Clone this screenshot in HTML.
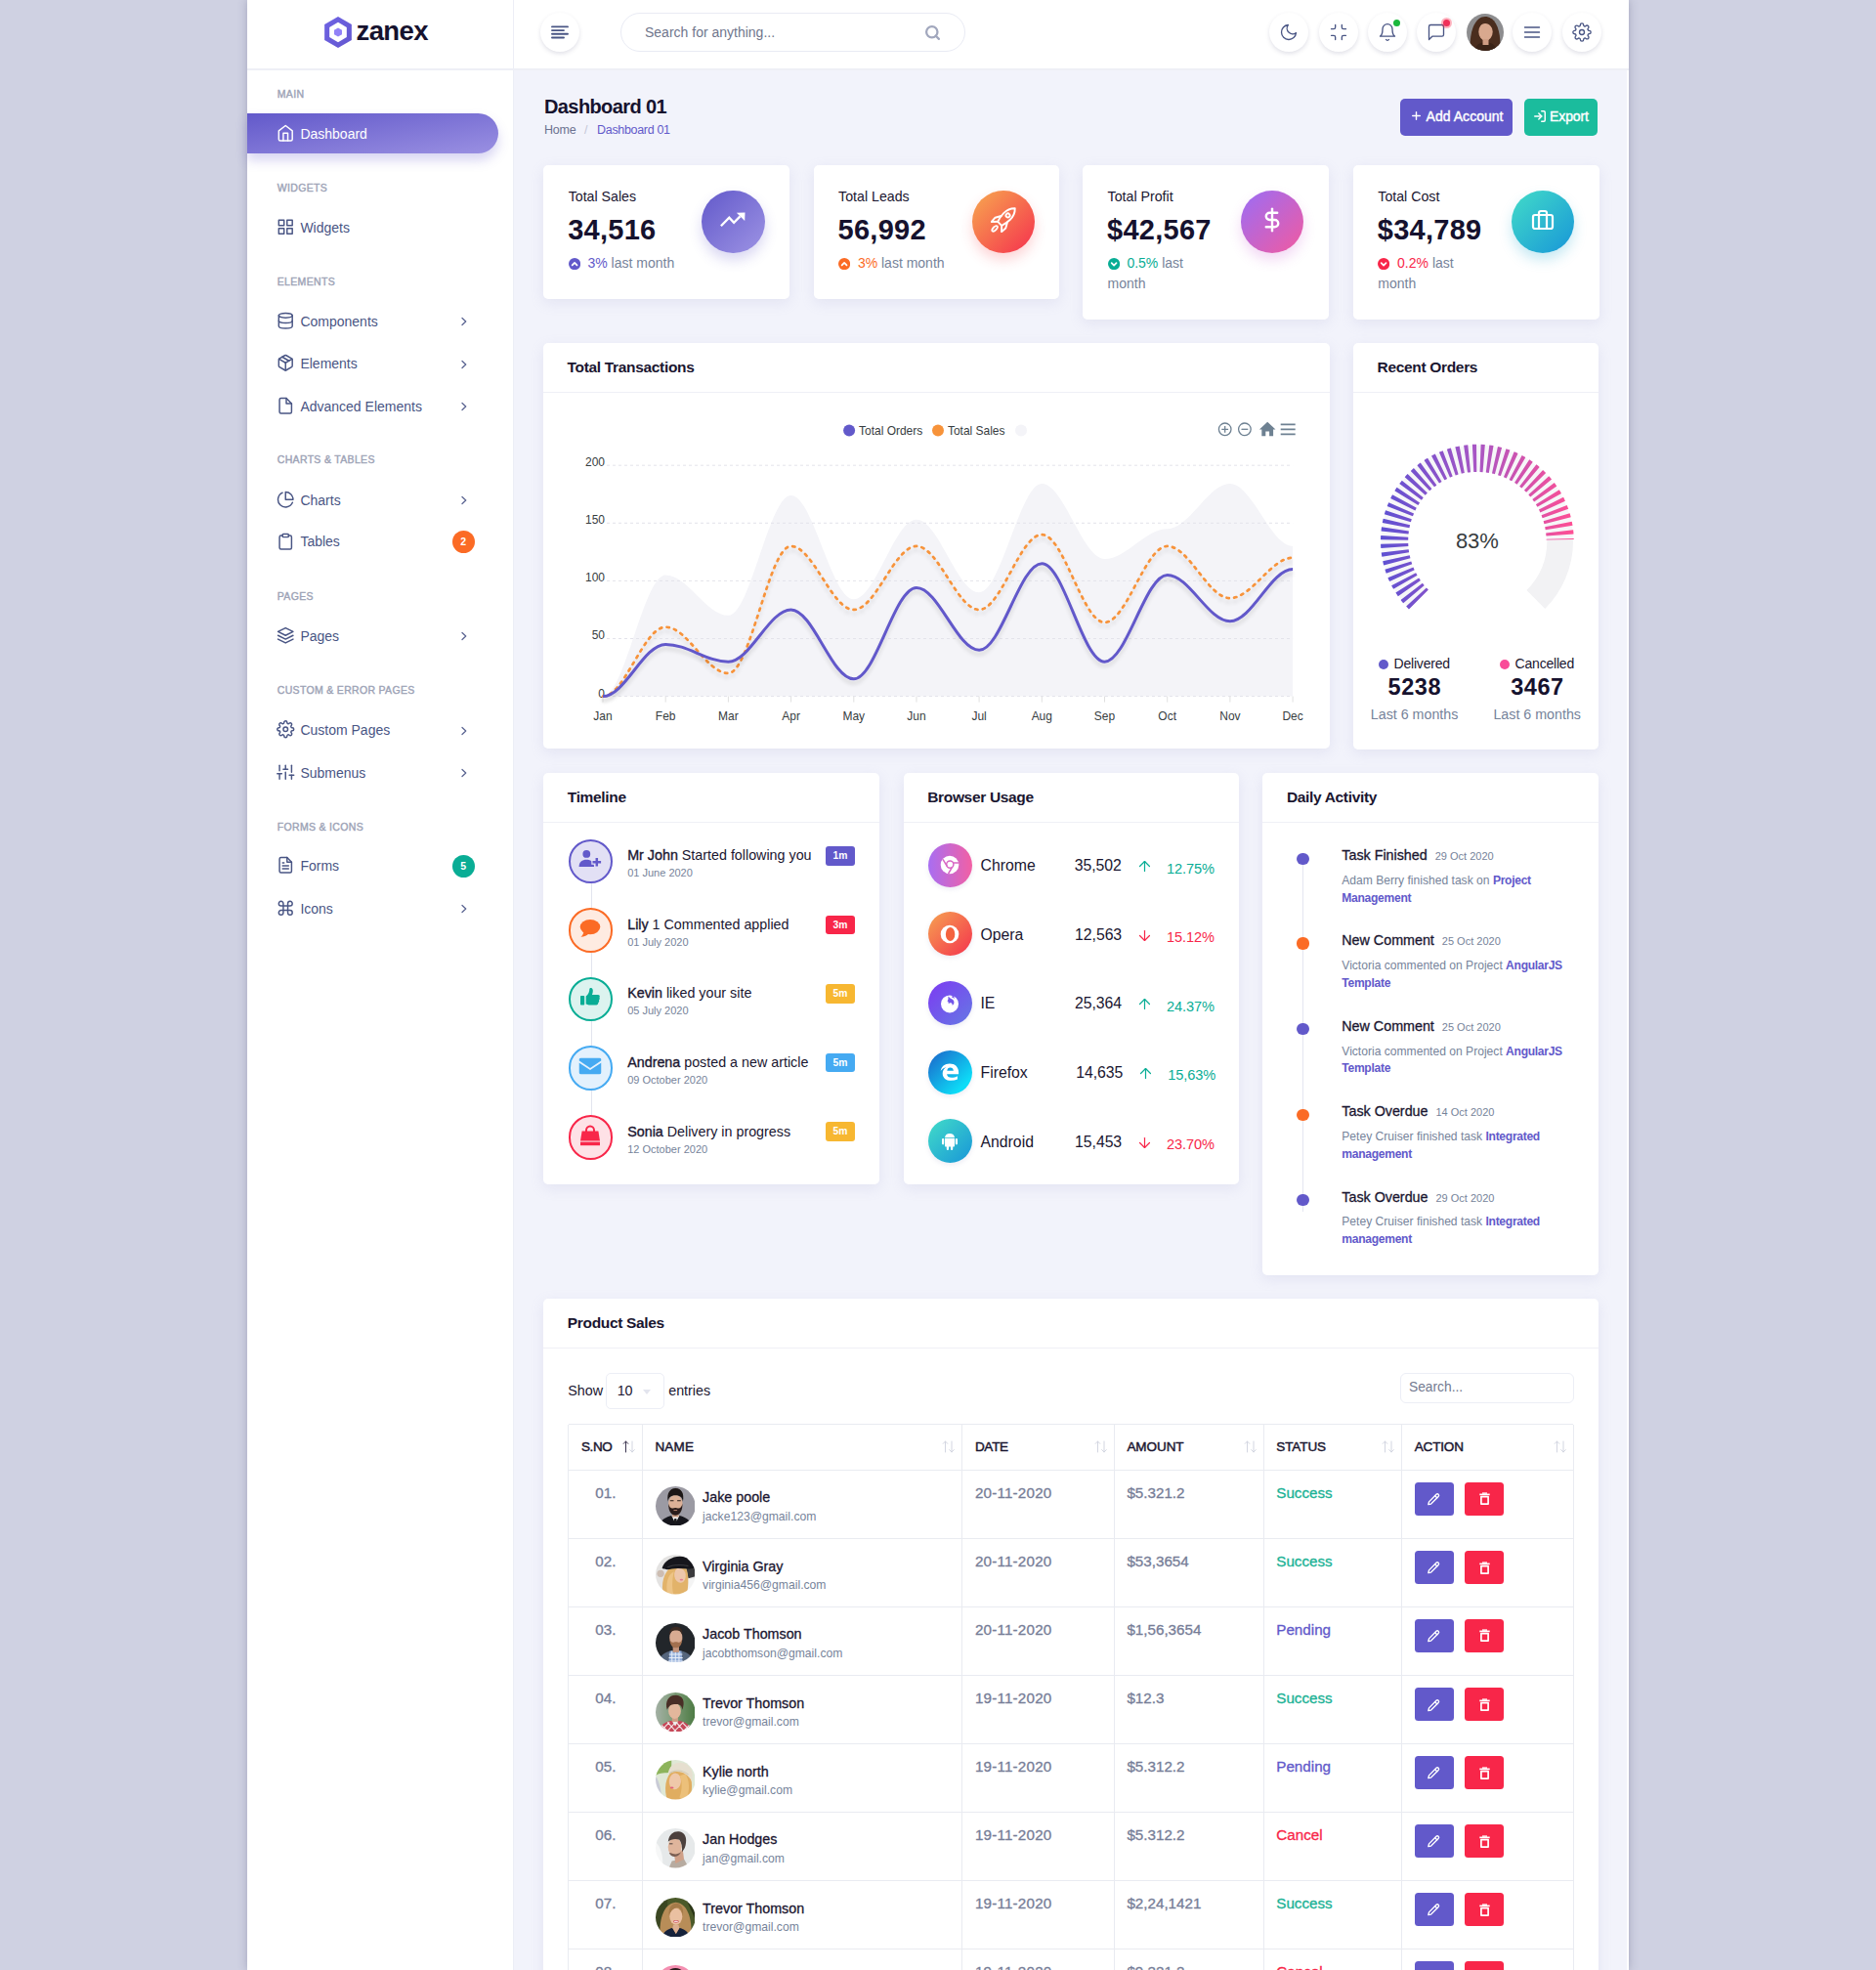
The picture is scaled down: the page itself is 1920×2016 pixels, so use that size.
<!DOCTYPE html>
<html lang="en"><head><meta charset="utf-8"><title>Zanex Dashboard</title>
<style>
*{box-sizing:border-box;margin:0;padding:0}
html,body{width:1920px;height:2016px;overflow:hidden}
body{font-family:"Liberation Sans",sans-serif;background:#cfd1e2;color:#1a1630;font-size:14px;position:relative}
#wrap{position:absolute;left:253px;top:0;width:1413.5px;height:2016px;background:linear-gradient(to right,#f2f3fb 0,#f2f3fb 1411.7px,#fff 1411.7px);box-shadow:0 0 9px rgba(70,70,110,.32)}
.abs{position:absolute}
svg{display:block}
/* header */
#hdr{position:absolute;left:0;top:0;width:1413.5px;height:72px;background:#fff;border-bottom:2px solid #eeeff6;z-index:3}
#logo{position:absolute;left:0;top:0;width:273px;height:70px;border-right:1px solid #eceef6}
.hbtn{position:absolute;top:13px;width:40px;height:40px;border-radius:50%;background:#fff;box-shadow:0 2px 4px rgba(70,70,110,.16);color:#495584}
.hbtn svg{position:absolute;left:50%;top:50%;transform:translate(-50%,-50%)}
#search{position:absolute;left:382px;top:13px;width:353px;height:40px;border:1px solid #e9ebf4;border-radius:20px;background:#fff;color:#70768c;font-size:14px;line-height:38px;padding-left:24px}
/* sidebar */
#side{position:absolute;left:0;top:71px;width:273px;height:1945px;background:#fff;border-right:1px solid #eceef6}
.slab{position:absolute;left:30.8px;font-size:10.5px;letter-spacing:.32px;color:#9da3b6;-webkit-text-stroke:.4px #9da3b6;line-height:14px;white-space:nowrap}
.sitem{position:absolute;left:0;width:272px;height:40px;color:#495584;font-size:14px;line-height:40px;white-space:nowrap}
.sitem svg.ic{position:absolute;left:30.2px;top:10.2px}
.sitem span.t{position:absolute;left:54.4px;top:0}
.sitem svg.chv{position:absolute;left:216px;top:14.5px}
.sbadge{position:absolute;left:209.6px;top:8.8px;width:23px;height:23px;border-radius:50%;color:#fff;font-size:10.5px;font-weight:bold;line-height:23px;text-align:center}
#active{position:absolute;left:0;top:45px;width:257px;height:41px;border-radius:0 22px 22px 0;background:linear-gradient(to bottom right,#6259ca 0%,#9a90e2 100%);box-shadow:0 7px 12px rgba(98,89,202,.25)}
/* cards */
.card{position:absolute;background:#fff;border-radius:5px;box-shadow:0 4px 14px rgba(150,150,200,.16)}
.ch{position:absolute;left:0;top:0;right:0;height:51px;border-bottom:1px solid #eff0f6;font-size:15.5px;font-weight:bold;letter-spacing:-.33px;color:#1a1630;line-height:50px;padding-left:24.6px;white-space:nowrap}
.muted{color:#76839a}
.t{white-space:nowrap}
</style></head><body>
<div id="wrap">
<div id="hdr"><div id="logo"><svg class="abs" style="left:76px;top:14px" width="36" height="38" viewBox="0 0 36 38"><defs><linearGradient id="lg1" x1="0" y1="0" x2="1" y2="1"><stop offset="0" stop-color="#6f63e4"/><stop offset="1" stop-color="#6357cf"/></linearGradient></defs><polygon points="17.00,3.00 30.86,11.00 30.86,27.00 17.00,35.00 3.14,27.00 3.14,11.00" fill="url(#lg1)"/><polygon points="17.00,8.80 25.83,13.90 25.83,24.10 17.00,29.20 8.17,24.10 8.17,13.90" fill="#fff"/><polygon points="17.00,14.40 20.98,16.70 20.98,21.30 17.00,23.60 13.02,21.30 13.02,16.70" fill="#9282f7"/></svg><div class="abs t" style="left:111.6px;top:16.2px;font-size:27.5px;font-weight:bold;letter-spacing:-.65px;line-height:32px;color:#16122e">zanex</div></div><div class="hbtn" style="left:299.8px"><svg width="18" height="14" viewBox="0 0 18 14" fill="none" stroke="#495584" stroke-width="1.9" stroke-linecap="round"><path d="M1 1.4H17M1 5.1H13M1 8.8H17M1 12.5H13"/></svg></div><div id="search">Search for anything...<svg width="17" height="17" viewBox="0 0 24 24" fill="none" stroke="#a1a7bd" stroke-width="3.2" stroke-linecap="round" stroke-linejoin="round" style="position:absolute;left:309.5px;top:11.2px"><circle cx="11" cy="11" r="8"/><line x1="21" y1="21" x2="16.65" y2="16.65"/></svg></div><div class="hbtn" style="left:1046.2px"><svg width="20" height="20" viewBox="0 0 24 24" fill="none" stroke="currentColor" stroke-width="1.6" stroke-linecap="round" stroke-linejoin="round" style=""><path d="M21 12.79A9 9 0 1 1 11.21 3 7 7 0 0 0 21 12.79z"/></svg></div><div class="hbtn" style="left:1096.6px"><svg width="20" height="20" viewBox="0 0 24 24" fill="none" stroke="currentColor" stroke-width="1.6" stroke-linecap="round" stroke-linejoin="round" style=""><path d="M8 3v3a2 2 0 0 1-2 2H3m18 0h-3a2 2 0 0 1-2-2V3m0 18v-3a2 2 0 0 1 2-2h3M3 16h3a2 2 0 0 1 2 2v3"/></svg></div><div class="hbtn" style="left:1147.1px"><svg width="20" height="20" viewBox="0 0 24 24" fill="none" stroke="currentColor" stroke-width="1.6" stroke-linecap="round" stroke-linejoin="round" style=""><path d="M18 8A6 6 0 0 0 6 8c0 7-3 9-3 9h18s-3-2-3-9"/><path d="M13.73 21a2 2 0 0 1-3.46 0"/></svg></div><div class="hbtn" style="left:1197.4px"><svg width="20" height="20" viewBox="0 0 24 24" fill="none" stroke="currentColor" stroke-width="1.6" stroke-linecap="round" stroke-linejoin="round" style=""><path d="M21 15a2 2 0 0 1-2 2H7l-4 4V5a2 2 0 0 1 2-2h14a2 2 0 0 1 2 2z"/></svg></div><div class="hbtn" style="left:1295.3px"><svg width="20" height="20" viewBox="0 0 24 24" fill="none" stroke="currentColor" stroke-width="1.6" stroke-linecap="round" stroke-linejoin="round" style=""><line x1="3" y1="12" x2="21" y2="12"/><line x1="3" y1="6" x2="21" y2="6"/><line x1="3" y1="18" x2="21" y2="18"/></svg></div><div class="hbtn" style="left:1345.9px"><svg width="20" height="20" viewBox="0 0 24 24" fill="none" stroke="currentColor" stroke-width="1.6" stroke-linecap="round" stroke-linejoin="round" style=""><circle cx="12" cy="12" r="3"/><path d="M19.4 15a1.65 1.65 0 0 0 .33 1.82l.06.06a2 2 0 0 1 0 2.83 2 2 0 0 1-2.83 0l-.06-.06a1.65 1.65 0 0 0-1.82-.33 1.65 1.65 0 0 0-1 1.51V21a2 2 0 0 1-2 2 2 2 0 0 1-2-2v-.09A1.65 1.65 0 0 0 9 19.4a1.65 1.65 0 0 0-1.82.33l-.06.06a2 2 0 0 1-2.83 0 2 2 0 0 1 0-2.83l.06-.06a1.65 1.65 0 0 0 .33-1.82 1.65 1.65 0 0 0-1.51-1H3a2 2 0 0 1-2-2 2 2 0 0 1 2-2h.09A1.65 1.65 0 0 0 4.6 9a1.65 1.65 0 0 0-.33-1.82l-.06-.06a2 2 0 0 1 0-2.83 2 2 0 0 1 2.83 0l.06.06a1.65 1.65 0 0 0 1.82.33H9a1.65 1.65 0 0 0 1-1.51V3a2 2 0 0 1 2-2 2 2 0 0 1 2 2v.09a1.65 1.65 0 0 0 1 1.51 1.65 1.65 0 0 0 1.82-.33l.06-.06a2 2 0 0 1 2.83 0 2 2 0 0 1 0 2.83l-.06.06a1.65 1.65 0 0 0-.33 1.82V9a1.65 1.65 0 0 0 1.51 1H21a2 2 0 0 1 2 2 2 2 0 0 1-2 2h-.09a1.65 1.65 0 0 0-1.51 1z"/></svg></div><div class="abs" style="left:1172.5px;top:19.5px;width:7px;height:7px;border-radius:50%;background:#1bb83c"></div><div class="abs" style="left:1221.5px;top:17.5px;width:11px;height:11px;border-radius:50%;background:rgba(248,38,73,.35)"></div><div class="abs" style="left:1224px;top:20px;width:7px;height:7px;border-radius:50%;background:#f0305a"></div><svg class="abs" style="left:1248px;top:14px" width="38" height="38" viewBox="0 0 38 38">
<defs><clipPath id="cpa"><circle cx="19" cy="19" r="19"/></clipPath></defs>
<g clip-path="url(#cpa)"><rect width="38" height="38" fill="#8d8d8f"/>
<path d="M4 40 C2 20 8 3 19 3 C31 3 36 20 34 40Z" fill="#4a2d1e"/>
<ellipse cx="19.5" cy="18.5" rx="7.2" ry="9.3" fill="#d9a88e"/>
<path d="M11 16 C12 8 18 6 21 7 C26 8 28 13 27.5 18 C26 13 23 10 19 10 C15 10 12.5 12 11 16Z" fill="#4a2d1e"/>
<path d="M8 40 C9 31 14 29 19.5 30 C25 29 30 31 31 40Z" fill="#3a2317"/>
<rect x="16.5" y="26" width="6" height="6" fill="#cf9d84"/>
</g></svg></div><div id="side"><div id="active"></div><div class="slab" style="top:17.8px">MAIN</div><div class="sitem" style="top:46.2px;color:#fff"><svg class="ic" width="18.5" height="18.5" viewBox="0 0 24 24" fill="none" stroke="#fff" stroke-width="1.9" stroke-linecap="round" stroke-linejoin="round"><path d="M3 9l9-7 9 7v11a2 2 0 0 1-2 2H5a2 2 0 0 1-2-2z"/><polyline points="9 22 9 12 15 12 15 22"/></svg><span class="t">Dashboard</span></div><div class="slab" style="top:113.9px">WIDGETS</div><div class="sitem" style="top:141.6px;color:#495584"><svg class="ic" width="18.5" height="18.5" viewBox="0 0 24 24" fill="none" stroke="#495584" stroke-width="1.9" stroke-linecap="round" stroke-linejoin="round"><rect x="3" y="3" width="7" height="7"/><rect x="14" y="3" width="7" height="7"/><rect x="14" y="14" width="7" height="7"/><rect x="3" y="14" width="7" height="7"/></svg><span class="t">Widgets</span></div><div class="slab" style="top:209.8px">ELEMENTS</div><div class="sitem" style="top:237.9px;color:#495584"><svg class="ic" width="18.5" height="18.5" viewBox="0 0 24 24" fill="none" stroke="#495584" stroke-width="1.9" stroke-linecap="round" stroke-linejoin="round"><ellipse cx="12" cy="5" rx="9" ry="3"/><path d="M21 12c0 1.66-4 3-9 3s-9-1.34-9-3"/><path d="M3 5v14c0 1.66 4 3 9 3s9-1.34 9-3V5"/></svg><span class="t">Components</span><svg class="chv" width="12" height="12" viewBox="0 0 24 24" fill="none" stroke="#5b6592" stroke-width="2.6" stroke-linecap="round" stroke-linejoin="round"><polyline points="8 19 15.5 12 8 5"/></svg></div><div class="sitem" style="top:281.2px;color:#495584"><svg class="ic" width="18.5" height="18.5" viewBox="0 0 24 24" fill="none" stroke="#495584" stroke-width="1.9" stroke-linecap="round" stroke-linejoin="round"><line x1="16.5" y1="9.4" x2="7.5" y2="4.21"/><path d="M21 16V8a2 2 0 0 0-1-1.73l-7-4a2 2 0 0 0-2 0l-7 4A2 2 0 0 0 3 8v8a2 2 0 0 0 1 1.73l7 4a2 2 0 0 0 2 0l7-4A2 2 0 0 0 21 16z"/><polyline points="3.27 6.96 12 12.01 20.73 6.96"/><line x1="12" y1="22.08" x2="12" y2="12"/></svg><span class="t">Elements</span><svg class="chv" width="12" height="12" viewBox="0 0 24 24" fill="none" stroke="#5b6592" stroke-width="2.6" stroke-linecap="round" stroke-linejoin="round"><polyline points="8 19 15.5 12 8 5"/></svg></div><div class="sitem" style="top:324.6px;color:#495584"><svg class="ic" width="18.5" height="18.5" viewBox="0 0 24 24" fill="none" stroke="#495584" stroke-width="1.9" stroke-linecap="round" stroke-linejoin="round"><path d="M13 2H6a2 2 0 0 0-2 2v16a2 2 0 0 0 2 2h12a2 2 0 0 0 2-2V9z"/><polyline points="13 2 13 9 20 9"/></svg><span class="t">Advanced Elements</span><svg class="chv" width="12" height="12" viewBox="0 0 24 24" fill="none" stroke="#5b6592" stroke-width="2.6" stroke-linecap="round" stroke-linejoin="round"><polyline points="8 19 15.5 12 8 5"/></svg></div><div class="slab" style="top:392.4px">CHARTS &amp; TABLES</div><div class="sitem" style="top:420.5px;color:#495584"><svg class="ic" width="18.5" height="18.5" viewBox="0 0 24 24" fill="none" stroke="#495584" stroke-width="1.9" stroke-linecap="round" stroke-linejoin="round"><path d="M21.21 15.89A10 10 0 1 1 8 2.83"/><path d="M22 12A10 10 0 0 0 12 2v10z"/></svg><span class="t">Charts</span><svg class="chv" width="12" height="12" viewBox="0 0 24 24" fill="none" stroke="#5b6592" stroke-width="2.6" stroke-linecap="round" stroke-linejoin="round"><polyline points="8 19 15.5 12 8 5"/></svg></div><div class="sitem" style="top:463.4px;color:#495584"><svg class="ic" width="18.5" height="18.5" viewBox="0 0 24 24" fill="none" stroke="#495584" stroke-width="1.9" stroke-linecap="round" stroke-linejoin="round"><path d="M16 4h2a2 2 0 0 1 2 2v14a2 2 0 0 1-2 2H6a2 2 0 0 1-2-2V6a2 2 0 0 1 2-2h2"/><rect x="8" y="2" width="8" height="4" rx="1" ry="1"/></svg><span class="t">Tables</span><span class="sbadge" style="background:#fb6b25">2</span></div><div class="slab" style="top:531.6px">PAGES</div><div class="sitem" style="top:559.7px;color:#495584"><svg class="ic" width="18.5" height="18.5" viewBox="0 0 24 24" fill="none" stroke="#495584" stroke-width="1.9" stroke-linecap="round" stroke-linejoin="round"><polygon points="12 2 2 7 12 12 22 7 12 2"/><polyline points="2 17 12 22 22 17"/><polyline points="2 12 12 17 22 12"/></svg><span class="t">Pages</span><svg class="chv" width="12" height="12" viewBox="0 0 24 24" fill="none" stroke="#5b6592" stroke-width="2.6" stroke-linecap="round" stroke-linejoin="round"><polyline points="8 19 15.5 12 8 5"/></svg></div><div class="slab" style="top:627.5px">CUSTOM &amp; ERROR PAGES</div><div class="sitem" style="top:656.3px;color:#495584"><svg class="ic" width="18.5" height="18.5" viewBox="0 0 24 24" fill="none" stroke="#495584" stroke-width="1.9" stroke-linecap="round" stroke-linejoin="round"><circle cx="12" cy="12" r="3"/><path d="M19.4 15a1.65 1.65 0 0 0 .33 1.82l.06.06a2 2 0 0 1 0 2.83 2 2 0 0 1-2.83 0l-.06-.06a1.65 1.65 0 0 0-1.82-.33 1.65 1.65 0 0 0-1 1.51V21a2 2 0 0 1-2 2 2 2 0 0 1-2-2v-.09A1.65 1.65 0 0 0 9 19.4a1.65 1.65 0 0 0-1.82.33l-.06.06a2 2 0 0 1-2.83 0 2 2 0 0 1 0-2.83l.06-.06a1.65 1.65 0 0 0 .33-1.82 1.65 1.65 0 0 0-1.51-1H3a2 2 0 0 1-2-2 2 2 0 0 1 2-2h.09A1.65 1.65 0 0 0 4.6 9a1.65 1.65 0 0 0-.33-1.82l-.06-.06a2 2 0 0 1 0-2.83 2 2 0 0 1 2.83 0l.06.06a1.65 1.65 0 0 0 1.82.33H9a1.65 1.65 0 0 0 1-1.51V3a2 2 0 0 1 2-2 2 2 0 0 1 2 2v.09a1.65 1.65 0 0 0 1 1.51 1.65 1.65 0 0 0 1.82-.33l.06-.06a2 2 0 0 1 2.83 0 2 2 0 0 1 0 2.83l-.06.06a1.65 1.65 0 0 0-.33 1.82V9a1.65 1.65 0 0 0 1.51 1H21a2 2 0 0 1 2 2 2 2 0 0 1-2 2h-.09a1.65 1.65 0 0 0-1.51 1z"/></svg><span class="t">Custom Pages</span><svg class="chv" width="12" height="12" viewBox="0 0 24 24" fill="none" stroke="#5b6592" stroke-width="2.6" stroke-linecap="round" stroke-linejoin="round"><polyline points="8 19 15.5 12 8 5"/></svg></div><div class="sitem" style="top:699.6px;color:#495584"><svg class="ic" width="18.5" height="18.5" viewBox="0 0 24 24" fill="none" stroke="#495584" stroke-width="1.9" stroke-linecap="round" stroke-linejoin="round"><line x1="4" y1="21" x2="4" y2="14"/><line x1="4" y1="10" x2="4" y2="3"/><line x1="12" y1="21" x2="12" y2="12"/><line x1="12" y1="8" x2="12" y2="3"/><line x1="20" y1="21" x2="20" y2="16"/><line x1="20" y1="12" x2="20" y2="3"/><line x1="1" y1="14" x2="7" y2="14"/><line x1="9" y1="8" x2="15" y2="8"/><line x1="17" y1="16" x2="23" y2="16"/></svg><span class="t">Submenus</span><svg class="chv" width="12" height="12" viewBox="0 0 24 24" fill="none" stroke="#5b6592" stroke-width="2.6" stroke-linecap="round" stroke-linejoin="round"><polyline points="8 19 15.5 12 8 5"/></svg></div><div class="slab" style="top:767.5px">FORMS &amp; ICONS</div><div class="sitem" style="top:795.2px;color:#495584"><svg class="ic" width="18.5" height="18.5" viewBox="0 0 24 24" fill="none" stroke="#495584" stroke-width="1.9" stroke-linecap="round" stroke-linejoin="round"><path d="M14 2H6a2 2 0 0 0-2 2v16a2 2 0 0 0 2 2h12a2 2 0 0 0 2-2V8z"/><polyline points="14 2 14 8 20 8"/><line x1="16" y1="13" x2="8" y2="13"/><line x1="16" y1="17" x2="8" y2="17"/><polyline points="10 9 9 9 8 9"/></svg><span class="t">Forms</span><span class="sbadge" style="background:#09ad95">5</span></div><div class="sitem" style="top:838.8px;color:#495584"><svg class="ic" width="18.5" height="18.5" viewBox="0 0 24 24" fill="none" stroke="#495584" stroke-width="1.9" stroke-linecap="round" stroke-linejoin="round"><path d="M18 3a3 3 0 0 0-3 3v12a3 3 0 0 0 3 3 3 3 0 0 0 3-3 3 3 0 0 0-3-3H6a3 3 0 0 0-3 3 3 3 0 0 0 3 3 3 3 0 0 0 3-3V6a3 3 0 0 0-3-3 3 3 0 0 0-3 3 3 3 0 0 0 3 3h12a3 3 0 0 0 3-3 3 3 0 0 0-3-3z"/></svg><span class="t">Icons</span><svg class="chv" width="12" height="12" viewBox="0 0 24 24" fill="none" stroke="#5b6592" stroke-width="2.6" stroke-linecap="round" stroke-linejoin="round"><polyline points="8 19 15.5 12 8 5"/></svg></div></div><div class="abs t" style="left:304px;top:96px;font-size:20px;font-weight:bold;letter-spacing:-.6px;line-height:26px;color:#16122e">Dashboard 01</div><div class="abs t" style="left:304px;top:124.8px;font-size:12.5px;line-height:17px;color:#6b7290"><span style="letter-spacing:-.23px">Home</span><span style="color:#c3c6d6;padding:0 9.6px 0 8.6px">/</span><span style="color:#6259ca;letter-spacing:-.33px">Dashboard 01</span></div><div class="abs t" style="left:1180px;top:100.5px;width:114.7px;height:38px;border-radius:5px;background:#6259ca;color:#fff;font-size:14px;-webkit-text-stroke:.4px #fff;line-height:36.6px;padding-left:26.6px;letter-spacing:.03px">Add Account<svg width="13" height="13" viewBox="0 0 24 24" fill="none" stroke="#fff" stroke-width="2.6" stroke-linecap="round" stroke-linejoin="round" style="position:absolute;left:9.6px;top:11.6px"><line x1="12" y1="5" x2="12" y2="19"/><line x1="5" y1="12" x2="19" y2="12"/></svg></div><div class="abs t" style="left:1306.5px;top:100.5px;width:75.5px;height:38px;border-radius:5px;background:#1bbc9d;color:#fff;font-size:14px;-webkit-text-stroke:.4px #fff;line-height:36.6px;padding-left:26.6px;letter-spacing:-.12px">Export<svg width="14" height="14" viewBox="0 0 24 24" fill="none" stroke="#fff" stroke-width="2.5" stroke-linecap="round" stroke-linejoin="round" style="position:absolute;left:9px;top:11.2px"><path d="M15 3h4a2 2 0 0 1 2 2v14a2 2 0 0 1-2 2h-4"/><polyline points="10 17 15 12 10 7"/><line x1="15" y1="12" x2="3" y2="12"/></svg></div><div class="card" style="left:303.2px;top:169.3px;width:251.8px;height:136.4px"><div class="abs t" style="left:25.5px;top:23.2px;font-size:14.2px;line-height:18px;color:#1a1630">Total Sales</div><div class="abs t" style="left:25px;top:47.6px;font-size:29px;font-weight:bold;line-height:36px;color:#16122e;letter-spacing:.26px">34,516</div><div class="abs t muted" style="left:25.5px;top:89.8px;font-size:14px;line-height:21px"><svg width="12.2" height="12.2" viewBox="0 0 12 12" style="display:inline-block;vertical-align:-1.8px;margin-right:7.6px"><circle cx="6" cy="6" r="6" fill="#6259ca"/><polyline points="3.6 7.2 6 4.8 8.4 7.2" fill="none" stroke="#fff" stroke-width="1.7" stroke-linecap="round" stroke-linejoin="round"/></svg><span style="color:#6259ca">3%</span> last month</div><div class="abs" style="left:162px;top:25.6px;width:64.4px;height:64.4px;border-radius:50%;background:linear-gradient(to bottom right,#6259ca 0%,#9d93e4 100%);box-shadow:0 7px 13px rgba(98,89,202,.24)"><div style="position:absolute;left:50%;top:calc(50% - 1.9px);transform:translate(-50%,-50%)"><svg width="27" height="16" viewBox="0 0 27 16"><polyline points="1.4 14.2 9.8 5.6 14.6 10.8 21 4.4" fill="none" stroke="#fff" stroke-width="2.3" stroke-linejoin="miter"/><polygon points="17.4 0.7 26 0.4 25.7 9" fill="#fff"/></svg></div></div></div><div class="card" style="left:579.6px;top:169.3px;width:251.8px;height:136.4px"><div class="abs t" style="left:25.5px;top:23.2px;font-size:14.2px;line-height:18px;color:#1a1630">Total Leads</div><div class="abs t" style="left:25px;top:47.6px;font-size:29px;font-weight:bold;line-height:36px;color:#16122e;letter-spacing:.26px">56,992</div><div class="abs t muted" style="left:25.5px;top:89.8px;font-size:14px;line-height:21px"><svg width="12.2" height="12.2" viewBox="0 0 12 12" style="display:inline-block;vertical-align:-1.8px;margin-right:7.6px"><circle cx="6" cy="6" r="6" fill="#fb6b25"/><polyline points="3.6 7.2 6 4.8 8.4 7.2" fill="none" stroke="#fff" stroke-width="1.7" stroke-linecap="round" stroke-linejoin="round"/></svg><span style="color:#fb6b25">3%</span> last month</div><div class="abs" style="left:162px;top:25.6px;width:64.4px;height:64.4px;border-radius:50%;background:linear-gradient(to bottom right,#f7a94f 0%,#f5304e 100%);box-shadow:0 7px 13px rgba(245,60,70,.22)"><div style="position:absolute;left:50%;top:calc(50% - 1.9px);transform:translate(-50%,-50%)"><svg width="26" height="26" viewBox="0 0 26 26" fill="none" stroke="#fff" stroke-width="1.9" stroke-linecap="round" stroke-linejoin="round"><g transform="translate(13 13) rotate(45)"><path d="M0 -16.6 C3.4 -13.4 4.7 -9 4.7 -5 C4.7 -1 3.9 2.6 2.8 5.4 L-2.8 5.4 C-3.9 2.6 -4.7 -1 -4.7 -5 C-4.7 -9 -3.4 -13.4 0 -16.6Z"/><circle cx="0" cy="-6.4" r="2"/><path d="M-4.5 -1.2 L-7.6 4.4 L-7.2 10 L-2.9 5.4"/><path d="M4.5 -1.2 L7.6 4.4 L7.2 10 L2.9 5.4"/><ellipse cx="0" cy="12.6" rx="1.7" ry="3.5"/></g></svg></div></div></div><div class="card" style="left:855.1px;top:169.3px;width:251.8px;height:157.8px"><div class="abs t" style="left:25.5px;top:23.2px;font-size:14.2px;line-height:18px;color:#1a1630">Total Profit</div><div class="abs t" style="left:25px;top:47.6px;font-size:29px;font-weight:bold;line-height:36px;color:#16122e;letter-spacing:.26px">$42,567</div><div class="abs t muted" style="left:25.5px;top:89.8px;font-size:14px;line-height:21px"><svg width="12.2" height="12.2" viewBox="0 0 12 12" style="display:inline-block;vertical-align:-1.8px;margin-right:7.6px"><circle cx="6" cy="6" r="6" fill="#09ad95"/><polyline points="3.6 5 6 7.4 8.4 5" fill="none" stroke="#fff" stroke-width="1.7" stroke-linecap="round" stroke-linejoin="round"/></svg><span style="color:#09ad95">0.5%</span> last<br>month</div><div class="abs" style="left:162px;top:25.6px;width:64.4px;height:64.4px;border-radius:50%;background:linear-gradient(to bottom right,#9a6df6 0%,#f25aa0 100%);box-shadow:0 7px 13px rgba(200,90,210,.24)"><div style="position:absolute;left:50%;top:calc(50% - 1.9px);transform:translate(-50%,-50%)"><svg width="25" height="25" viewBox="0 0 24 24" fill="none" stroke="#fff" stroke-width="2.3" stroke-linecap="round" stroke-linejoin="round" style=""><line x1="12" y1="1" x2="12" y2="23"/><path d="M17 5H9.5a3.5 3.5 0 0 0 0 7h5a3.5 3.5 0 0 1 0 7H6"/></svg></div></div></div><div class="card" style="left:1131.8px;top:169.3px;width:251.8px;height:157.8px"><div class="abs t" style="left:25.5px;top:23.2px;font-size:14.2px;line-height:18px;color:#1a1630">Total Cost</div><div class="abs t" style="left:25px;top:47.6px;font-size:29px;font-weight:bold;line-height:36px;color:#16122e;letter-spacing:.26px">$34,789</div><div class="abs t muted" style="left:25.5px;top:89.8px;font-size:14px;line-height:21px"><svg width="12.2" height="12.2" viewBox="0 0 12 12" style="display:inline-block;vertical-align:-1.8px;margin-right:7.6px"><circle cx="6" cy="6" r="6" fill="#f82649"/><polyline points="3.6 5 6 7.4 8.4 5" fill="none" stroke="#fff" stroke-width="1.7" stroke-linecap="round" stroke-linejoin="round"/></svg><span style="color:#f82649">0.2%</span> last<br>month</div><div class="abs" style="left:162px;top:25.6px;width:64.4px;height:64.4px;border-radius:50%;background:linear-gradient(to bottom right,#42dcc8 0%,#1896d8 100%);box-shadow:0 7px 13px rgba(40,170,210,.26)"><div style="position:absolute;left:50%;top:calc(50% - 1.9px);transform:translate(-50%,-50%)"><svg width="24" height="24" viewBox="0 0 24 24" fill="none" stroke="#fff" stroke-width="2.2" stroke-linecap="round" stroke-linejoin="round" style=""><rect x="2" y="7" width="20" height="14" rx="2" ry="2"/><path d="M16 21V5a2 2 0 0 0-2-2h-4a2 2 0 0 0-2 2v16"/></svg></div></div></div><div class="card" style="left:303px;top:350.7px;width:804.5px;height:415.2px"><div class="ch">Total Transactions</div><svg class="abs" style="left:0;top:0" width="804.5" height="414.8" viewBox="0 0 804.5 414.8" font-family="Liberation Sans, sans-serif"><defs><filter id="ds" x="-5%" y="-20%" width="110%" height="150%"><feGaussianBlur in="SourceAlpha" stdDeviation="2"/><feOffset dx="0" dy="4"/><feComponentTransfer><feFuncA type="linear" slope="0.13"/></feComponentTransfer><feMerge><feMergeNode/><feMergeNode in="SourceGraphic"/></feMerge></filter></defs><path d="M61.00 361.60 C83.47 361.60 102.72 237.49 125.19 237.49 C147.66 237.49 166.91 278.86 189.38 278.86 C211.85 278.86 231.11 155.93 253.57 155.93 C276.04 155.93 295.30 262.31 317.76 262.31 C340.23 262.31 359.49 180.75 381.95 180.75 C404.42 180.75 423.68 255.22 446.15 255.22 C468.61 255.22 487.87 144.11 510.34 144.11 C532.80 144.11 552.06 220.94 574.53 220.94 C596.99 220.94 616.25 190.21 638.72 190.21 C661.18 190.21 680.44 144.11 702.91 144.11 C725.38 144.11 744.63 207.94 767.10 207.94 L767.10 361.60 L61.00 361.60Z" fill="#f4f4f8"/><line x1="65.0" x2="767.1" y1="361.6" y2="361.6" stroke="#e3e3ea" stroke-width="1" stroke-dasharray="3 3"/><text x="63.0" y="362.6" font-size="12" fill="#373d3f" text-anchor="end">0</text><line x1="65.0" x2="767.1" y1="302.5" y2="302.5" stroke="#e3e3ea" stroke-width="1" stroke-dasharray="3 3"/><text x="63.0" y="303.5" font-size="12" fill="#373d3f" text-anchor="end">50</text><line x1="65.0" x2="767.1" y1="243.4" y2="243.4" stroke="#e3e3ea" stroke-width="1" stroke-dasharray="3 3"/><text x="63.0" y="244.4" font-size="12" fill="#373d3f" text-anchor="end">100</text><line x1="65.0" x2="767.1" y1="184.3" y2="184.3" stroke="#e3e3ea" stroke-width="1" stroke-dasharray="3 3"/><text x="63.0" y="185.3" font-size="12" fill="#373d3f" text-anchor="end">150</text><line x1="65.0" x2="767.1" y1="125.2" y2="125.2" stroke="#e3e3ea" stroke-width="1" stroke-dasharray="3 3"/><text x="63.0" y="126.2" font-size="12" fill="#373d3f" text-anchor="end">200</text><line x1="61.0" x2="61.0" y1="361.6" y2="367.6" stroke="#e0e0e0" stroke-width="1"/><text x="61.0" y="385.9" font-size="12" fill="#373d3f" text-anchor="middle">Jan</text><line x1="125.2" x2="125.2" y1="361.6" y2="367.6" stroke="#e0e0e0" stroke-width="1"/><text x="125.2" y="385.9" font-size="12" fill="#373d3f" text-anchor="middle">Feb</text><line x1="189.4" x2="189.4" y1="361.6" y2="367.6" stroke="#e0e0e0" stroke-width="1"/><text x="189.4" y="385.9" font-size="12" fill="#373d3f" text-anchor="middle">Mar</text><line x1="253.6" x2="253.6" y1="361.6" y2="367.6" stroke="#e0e0e0" stroke-width="1"/><text x="253.6" y="385.9" font-size="12" fill="#373d3f" text-anchor="middle">Apr</text><line x1="317.8" x2="317.8" y1="361.6" y2="367.6" stroke="#e0e0e0" stroke-width="1"/><text x="317.8" y="385.9" font-size="12" fill="#373d3f" text-anchor="middle">May</text><line x1="382.0" x2="382.0" y1="361.6" y2="367.6" stroke="#e0e0e0" stroke-width="1"/><text x="382.0" y="385.9" font-size="12" fill="#373d3f" text-anchor="middle">Jun</text><line x1="446.1" x2="446.1" y1="361.6" y2="367.6" stroke="#e0e0e0" stroke-width="1"/><text x="446.1" y="385.9" font-size="12" fill="#373d3f" text-anchor="middle">Jul</text><line x1="510.3" x2="510.3" y1="361.6" y2="367.6" stroke="#e0e0e0" stroke-width="1"/><text x="510.3" y="385.9" font-size="12" fill="#373d3f" text-anchor="middle">Aug</text><line x1="574.5" x2="574.5" y1="361.6" y2="367.6" stroke="#e0e0e0" stroke-width="1"/><text x="574.5" y="385.9" font-size="12" fill="#373d3f" text-anchor="middle">Sep</text><line x1="638.7" x2="638.7" y1="361.6" y2="367.6" stroke="#e0e0e0" stroke-width="1"/><text x="638.7" y="385.9" font-size="12" fill="#373d3f" text-anchor="middle">Oct</text><line x1="702.9" x2="702.9" y1="361.6" y2="367.6" stroke="#e0e0e0" stroke-width="1"/><text x="702.9" y="385.9" font-size="12" fill="#373d3f" text-anchor="middle">Nov</text><line x1="767.1" x2="767.1" y1="361.6" y2="367.6" stroke="#e0e0e0" stroke-width="1"/><text x="767.1" y="385.9" font-size="12" fill="#373d3f" text-anchor="middle">Dec</text><path d="M61.00 361.60 C83.47 361.60 102.72 290.68 125.19 290.68 C147.66 290.68 166.91 337.96 189.38 337.96 C211.85 337.96 231.11 207.94 253.57 207.94 C276.04 207.94 295.30 272.95 317.76 272.95 C340.23 272.95 359.49 207.94 381.95 207.94 C404.42 207.94 423.68 272.95 446.15 272.95 C468.61 272.95 487.87 196.12 510.34 196.12 C532.80 196.12 552.06 285.95 574.53 285.95 C596.99 285.95 616.25 207.94 638.72 207.94 C661.18 207.94 680.44 261.13 702.91 261.13 C725.38 261.13 744.63 219.76 767.10 219.76" fill="none" stroke="#f7933a" stroke-width="2.7" stroke-linecap="round" stroke-dasharray="2.4 5.3" filter="url(#ds)"/><path d="M61.00 361.60 C83.47 361.60 102.72 308.41 125.19 308.41 C147.66 308.41 166.91 326.14 189.38 326.14 C211.85 326.14 231.11 272.95 253.57 272.95 C276.04 272.95 295.30 343.87 317.76 343.87 C340.23 343.87 359.49 250.49 381.95 250.49 C404.42 250.49 423.68 314.32 446.15 314.32 C468.61 314.32 487.87 225.67 510.34 225.67 C532.80 225.67 552.06 326.14 574.53 326.14 C596.99 326.14 616.25 237.49 638.72 237.49 C661.18 237.49 680.44 284.77 702.91 284.77 C725.38 284.77 744.63 231.58 767.10 231.58" fill="none" stroke="#6259ca" stroke-width="3" filter="url(#ds)"/><circle cx="313.1" cy="89.6" r="6" fill="#6259ca"/><text x="323.0" y="93.9" font-size="12" fill="#373d3f">Total Orders</text><circle cx="404.0" cy="89.6" r="6" fill="#f7933a"/><text x="413.9" y="93.9" font-size="12" fill="#373d3f">Total Sales</text><circle cx="489.0" cy="89.6" r="6" fill="#f4f4f8"/><g fill="none" stroke="#6e8192" stroke-width="1.3"><circle cx="697.7" cy="88.3" r="6.3"/><path d="M694.3 88.3h6.8M697.7 84.9v6.8"/><circle cx="717.9" cy="88.3" r="6.3"/><path d="M714.5 88.3h6.8"/></g><path d="M741.2 80.8 l8.3 7.6 h-2.4 v6.9 h-4 v-4.8 h-3.8 v4.8 h-4 v-6.9 h-2.4z" fill="#6e8192"/><path d="M754.7 83.3h15M754.7 88.3h15M754.7 93.3h15" stroke="#6e8192" stroke-width="1.7" fill="none"/></svg></div><div class="card" style="left:1132px;top:350.7px;width:250.9px;height:416.3px"><div class="ch">Recent Orders</div><svg class="abs" style="left:0;top:0" width="250.7" height="415.5" viewBox="0 0 250.7 415.5" font-family="Liberation Sans, sans-serif"><defs><linearGradient id="gg" gradientUnits="userSpaceOnUse" x1="27.9" y1="0" x2="225.9" y2="0"><stop offset="0" stop-color="#5d50d2"/><stop offset=".5" stop-color="#a956c4"/><stop offset="1" stop-color="#ff4f93"/></linearGradient></defs><path d="M66.94 262.56 A84.8 84.8 0 1 1 186.86 262.56" fill="none" stroke="#f2f2f4" stroke-width="26.7"/><path d="M66.94 262.56 A84.8 84.8 0 1 1 211.69 201.27" fill="none" stroke="#fff" stroke-width="29.2"/><path d="M66.94 262.56 A84.8 84.8 0 1 1 211.69 201.27" fill="none" stroke="#f6f6f8" stroke-width="26.7"/><path d="M66.94 262.56 A84.8 84.8 0 1 1 211.69 201.27" fill="none" stroke="url(#gg)" stroke-width="28.2" stroke-dasharray="3.626 3.885"/><text x="126.9" y="210.3" font-size="22" fill="#373d3f" text-anchor="middle">83%</text></svg><div class="abs t" style="left:-17.4px;width:160px;top:319.8px;text-align:center;font-size:14px;letter-spacing:-.2px;line-height:18px;color:#1a1630"><span style="display:inline-block;width:10px;height:10px;border-radius:50%;background:#6259ca;margin-right:5.2px;vertical-align:-0.5px"></span>Delivered</div><div class="abs t" style="left:-17.4px;width:160px;top:338.6px;text-align:center;font-size:23.5px;font-weight:bold;line-height:28px;color:#16122e;letter-spacing:.55px;padding-left:.5px">5238</div><div class="abs t muted" style="left:-17.4px;width:160px;top:371.1px;text-align:center;font-size:14.25px;line-height:18px">Last 6 months</div><div class="abs t" style="left:108.2px;width:160px;top:319.8px;text-align:center;font-size:14px;letter-spacing:-.2px;line-height:18px;color:#1a1630"><span style="display:inline-block;width:10px;height:10px;border-radius:50%;background:#f94b98;margin-right:5.2px;vertical-align:-0.5px"></span>Cancelled</div><div class="abs t" style="left:108.2px;width:160px;top:338.6px;text-align:center;font-size:23.5px;font-weight:bold;line-height:28px;color:#16122e;letter-spacing:.55px;padding-left:.5px">3467</div><div class="abs t muted" style="left:108.2px;width:160px;top:371.1px;text-align:center;font-size:14.25px;line-height:18px">Last 6 months</div></div><div class="card" style="left:303.2px;top:791px;width:343.8px;height:420.6px"><div class="ch">Timeline</div><div class="abs" style="left:48.4px;top:90.4px;width:1.2px;height:282.4px;background:#e2e4ee"></div><div class="abs" style="left:25.4px;top:67.6px;width:45.6px;height:45.6px;border-radius:50%;border:2.5px solid #6259ca;background:#e2e0f5"><div style="position:absolute;left:50%;top:calc(50% - 2.2px);transform:translate(-50%,-50%)"><svg width="24" height="19" viewBox="0 0 24 19"><circle cx="8.3" cy="4.4" r="3.9" fill="#6259ca"/><path d="M0.6 17.6 C0.6 12.4 3.8 10.2 8.3 10.2 C12.8 10.2 16 12.4 16 17.6Z" fill="#6259ca"/><path d="M18.8 7.2v11M13.3 12.7h11" stroke="#e2e0f5" stroke-width="5.2" fill="none"/><path d="M18.8 8.4v8.6M14.5 12.7h8.6" stroke="#6259ca" stroke-width="2.5" fill="none"/></svg></div></div><div class="abs t" style="left:86.0px;top:75.1px;font-size:14.3px;line-height:18px;color:#1a1630"><span style="-webkit-text-stroke:.35px #1a1630">Mr John</span> Started following you</div><div class="abs t muted" style="left:86.0px;top:94.2px;font-size:11px;line-height:16px">01 June 2020</div><div class="abs t" style="left:288.7px;top:75.0px;width:30px;height:19.6px;border-radius:3px;background:#6259ca;color:#fff;font-size:10.3px;font-weight:bold;line-height:19.6px;text-align:center">1m</div><div class="abs" style="left:25.4px;top:138.2px;width:45.6px;height:45.6px;border-radius:50%;border:2.5px solid #fb6b25;background:#feebe1"><div style="position:absolute;left:50%;top:calc(50% - 2.2px);transform:translate(-50%,-50%)"><svg width="22" height="20" viewBox="0 0 22 20"><ellipse cx="11" cy="8.6" rx="10.3" ry="7.6" fill="#fb6b25"/><path d="M4.5 12.5 C4.5 15.5 3 17.6 1.4 18.8 C5 18.8 8 17.4 9.6 15.2Z" fill="#fb6b25"/></svg></div></div><div class="abs t" style="left:86.0px;top:145.7px;font-size:14.3px;line-height:18px;color:#1a1630"><span style="-webkit-text-stroke:.35px #1a1630">Lily</span> 1 Commented applied</div><div class="abs t muted" style="left:86.0px;top:164.8px;font-size:11px;line-height:16px">01 July 2020</div><div class="abs t" style="left:288.7px;top:145.6px;width:30px;height:19.6px;border-radius:3px;background:#f82649;color:#fff;font-size:10.3px;font-weight:bold;line-height:19.6px;text-align:center">3m</div><div class="abs" style="left:25.4px;top:208.8px;width:45.6px;height:45.6px;border-radius:50%;border:2.5px solid #09ad95;background:#dcf3ef"><div style="position:absolute;left:50%;top:calc(50% - 2.2px);transform:translate(-50%,-50%)"><svg width="21" height="20" viewBox="0 0 21 20"><rect x="0.5" y="9" width="4.2" height="9.6" rx=".8" fill="#09ad95"/><path d="M6.2 9.6 C8.4 8 9.6 5.4 9.8 2.2 C10 .6 12.8 .6 13.2 3 C13.5 5 13 6.6 12.4 8 H18.6 C20.4 8 20.8 10 19.8 10.8 C20.6 11.6 20.4 13 19.4 13.5 C20 14.4 19.7 15.6 18.7 16 C19 17.4 18.2 18.4 16.8 18.4 H10.6 C8.8 18.4 7.6 17.8 6.2 17.4Z" fill="#09ad95"/></svg></div></div><div class="abs t" style="left:86.0px;top:216.3px;font-size:14.3px;line-height:18px;color:#1a1630"><span style="-webkit-text-stroke:.35px #1a1630">Kevin</span> liked your site</div><div class="abs t muted" style="left:86.0px;top:235.4px;font-size:11px;line-height:16px">05 July 2020</div><div class="abs t" style="left:288.7px;top:216.2px;width:30px;height:19.6px;border-radius:3px;background:#f7b731;color:#fff;font-size:10.3px;font-weight:bold;line-height:19.6px;text-align:center">5m</div><div class="abs" style="left:25.4px;top:279.4px;width:45.6px;height:45.6px;border-radius:50%;border:2.5px solid #45aaf2;background:#e3f1fd"><div style="position:absolute;left:50%;top:calc(50% - 2.2px);transform:translate(-50%,-50%)"><svg width="23" height="17" viewBox="0 0 23 17"><path d="M2.2 0 H20.8 C22 0 23 1 23 2.2 V2.8 L11.5 10.4 L0 2.8 V2.2 C0 1 1 0 2.2 0Z" fill="#45aaf2"/><path d="M0 5 L11.5 12.6 L23 5 V14.8 C23 16 22 17 20.8 17 H2.2 C1 17 0 16 0 14.8Z" fill="#45aaf2"/></svg></div></div><div class="abs t" style="left:86.0px;top:286.9px;font-size:14.3px;line-height:18px;color:#1a1630"><span style="-webkit-text-stroke:.35px #1a1630">Andrena</span> posted a new article</div><div class="abs t muted" style="left:86.0px;top:306.0px;font-size:11px;line-height:16px">09 October 2020</div><div class="abs t" style="left:288.7px;top:286.8px;width:30px;height:19.6px;border-radius:3px;background:#45aaf2;color:#fff;font-size:10.3px;font-weight:bold;line-height:19.6px;text-align:center">5m</div><div class="abs" style="left:25.4px;top:350.0px;width:45.6px;height:45.6px;border-radius:50%;border:2.5px solid #f82649;background:#fee1e6"><div style="position:absolute;left:50%;top:calc(50% - 2.2px);transform:translate(-50%,-50%)"><svg width="22" height="22" viewBox="0 0 22 22"><path d="M7 8 V5.6 C7 3.2 8.8 1.4 11 1.4 C13.2 1.4 15 3.2 15 5.6 V8" stroke="#f82649" stroke-width="2" fill="none"/><path d="M2.6 6.6 H19.4 L21 16.4 H1Z" fill="#f82649"/><rect x="1" y="17.6" width="20" height="3.6" fill="#f82649"/></svg></div></div><div class="abs t" style="left:86.0px;top:357.5px;font-size:14.3px;line-height:18px;color:#1a1630"><span style="-webkit-text-stroke:.35px #1a1630">Sonia</span> Delivery in progress</div><div class="abs t muted" style="left:86.0px;top:376.6px;font-size:11px;line-height:16px">12 October 2020</div><div class="abs t" style="left:288.7px;top:357.4px;width:30px;height:19.6px;border-radius:3px;background:#f7b731;color:#fff;font-size:10.3px;font-weight:bold;line-height:19.6px;text-align:center">5m</div></div><div class="card" style="left:671.6px;top:791px;width:343.2px;height:420.6px"><div class="ch">Browser Usage</div><div class="abs" style="left:25.2px;top:71.8px;width:45px;height:45px;border-radius:50%;background:linear-gradient(to right,#a86ef2 0%,#f260a4 100%);box-shadow:0 2px 5px rgba(120,120,170,.14)"><div style="position:absolute;left:50%;top:50%;transform:translate(-50%,-50%)"><svg width="20" height="20" viewBox="0 0 20 20"><circle cx="10" cy="10" r="9.3" fill="#fff"/><g fill="none" stroke="#d867c4" stroke-width="1.5"><circle cx="10.3" cy="9.6" r="3.6"/><path d="M3 4.4 L7.2 11.4 M13.6 8 H19 M12.2 12.8 L8.6 19"/></g></svg></div></div><div class="abs t" style="left:78.9px;top:85.0px;font-size:15.8px;line-height:20px;color:#1a1630">Chrome</div><div class="abs t" style="left:175.1px;top:85.0px;font-size:15.8px;line-height:20px;color:#1a1630;letter-spacing:-.05px">35,502</div><svg width="17" height="17" viewBox="0 0 24 24" fill="none" stroke="#09ad95" stroke-width="1.7" stroke-linecap="round" stroke-linejoin="round" style="position:absolute;left:238.0px;top:87.1px"><line x1="12" y1="19" x2="12" y2="5"/><polyline points="5 12 12 5 19 12"/></svg><div class="abs t" style="left:269.4px;top:87.5px;font-size:14.6px;line-height:20px;color:#09ad95;letter-spacing:-.1px">12.75%</div><div class="abs" style="left:25.2px;top:142.4px;width:45px;height:45px;border-radius:50%;background:linear-gradient(to bottom right,#f6a351 0%,#f4324d 100%);box-shadow:0 2px 5px rgba(120,120,170,.14)"><div style="position:absolute;left:50%;top:50%;transform:translate(-50%,-50%)"><svg width="20" height="20" viewBox="0 0 20 20"><circle cx="10" cy="10" r="9.3" fill="#fff"/><ellipse cx="10.6" cy="10" rx="4.7" ry="7.1" fill="#f4633f"/></svg></div></div><div class="abs t" style="left:78.9px;top:155.6px;font-size:15.8px;line-height:20px;color:#1a1630">Opera</div><div class="abs t" style="left:175.5px;top:155.6px;font-size:15.8px;line-height:20px;color:#1a1630;letter-spacing:-.05px">12,563</div><svg width="17" height="17" viewBox="0 0 24 24" fill="none" stroke="#f82649" stroke-width="1.7" stroke-linecap="round" stroke-linejoin="round" style="position:absolute;left:238.0px;top:157.7px"><line x1="12" y1="5" x2="12" y2="19"/><polyline points="19 12 12 19 5 12"/></svg><div class="abs t" style="left:269.4px;top:158.1px;font-size:14.6px;line-height:20px;color:#f82649;letter-spacing:-.1px">15.12%</div><div class="abs" style="left:25.2px;top:213.0px;width:45px;height:45px;border-radius:50%;background:linear-gradient(to bottom right,#7d3af2 0%,#6579e4 100%);box-shadow:0 2px 5px rgba(120,120,170,.14)"><div style="position:absolute;left:50%;top:50%;transform:translate(-50%,-50%)"><svg width="20" height="20" viewBox="0 0 20 20"><circle cx="10" cy="10.4" r="9" fill="#fff"/><path d="M8.2 2.6 C9.6 3.4 10 4.6 11.4 5 C13.6 5.6 14.8 7.4 14.4 9.4 C14.2 10.6 13.4 11.4 12.4 11.6 C13 10.4 12.2 9.2 11 9.2 C9.8 9.2 9.4 10 8.4 9.6 C9 8.6 8.4 7.8 7.4 7.6 C8.6 6.6 8.8 4.4 8.2 2.6Z" fill="#7456ea"/><path d="M13 1.6 C14.2 2.6 14.8 3.8 14.6 5.2 C13.8 4.2 13 3.8 12 3.6Z" fill="#7456ea"/></svg></div></div><div class="abs t" style="left:78.9px;top:226.2px;font-size:15.8px;line-height:20px;color:#1a1630">IE</div><div class="abs t" style="left:175.4px;top:226.2px;font-size:15.8px;line-height:20px;color:#1a1630;letter-spacing:-.05px">25,364</div><svg width="17" height="17" viewBox="0 0 24 24" fill="none" stroke="#09ad95" stroke-width="1.7" stroke-linecap="round" stroke-linejoin="round" style="position:absolute;left:238.0px;top:228.3px"><line x1="12" y1="19" x2="12" y2="5"/><polyline points="5 12 12 5 19 12"/></svg><div class="abs t" style="left:269.4px;top:228.7px;font-size:14.6px;line-height:20px;color:#09ad95;letter-spacing:-.1px">24.37%</div><div class="abs" style="left:25.2px;top:283.6px;width:45px;height:45px;border-radius:50%;background:linear-gradient(to bottom right,#1c62c9 0%,#0ddcf7 80%);box-shadow:0 2px 5px rgba(120,120,170,.14)"><div style="position:absolute;left:50%;top:50%;transform:translate(-50%,-50%)"><svg width="21" height="20" viewBox="0 0 21 20"><path d="M1.2 9 C1.8 4.4 5.4 1.4 10.4 1.4 C15.8 1.4 19.6 4.8 19.6 10.2 V12.2 H7.6 C7.8 14.6 9.8 15.8 12.4 15.8 C14.6 15.8 16.6 15.2 18.4 14.2 V17.6 C16.4 18.4 14.2 18.8 11.8 18.8 C6.6 18.8 3.2 16 3.2 11.4 C3.2 8.6 4.6 6.4 7 5.2 C4.4 5.6 2.4 7 1.2 9Z M7.8 8.8 H14.4 C14.2 6.6 13 5.4 11 5.4 C9.2 5.4 8 6.6 7.8 8.8Z" fill="#fff" fill-rule="evenodd"/></svg></div></div><div class="abs t" style="left:78.9px;top:296.8px;font-size:15.8px;line-height:20px;color:#1a1630">Firefox</div><div class="abs t" style="left:176.7px;top:296.8px;font-size:15.8px;line-height:20px;color:#1a1630;letter-spacing:-.05px">14,635</div><svg width="17" height="17" viewBox="0 0 24 24" fill="none" stroke="#09ad95" stroke-width="1.7" stroke-linecap="round" stroke-linejoin="round" style="position:absolute;left:239.2px;top:298.9px"><line x1="12" y1="19" x2="12" y2="5"/><polyline points="5 12 12 5 19 12"/></svg><div class="abs t" style="left:270.6px;top:299.3px;font-size:14.6px;line-height:20px;color:#09ad95;letter-spacing:-.1px">15,63%</div><div class="abs" style="left:25.2px;top:354.3px;width:45px;height:45px;border-radius:50%;background:linear-gradient(to bottom right,#42dcc8 0%,#1896d8 100%);box-shadow:0 2px 5px rgba(120,120,170,.14)"><div style="position:absolute;left:50%;top:50%;transform:translate(-50%,-50%)"><svg width="18" height="20" viewBox="0 0 18 20" fill="#fff"><path d="M4 7 H14 V14.6 C14 15.2 13.6 15.6 13 15.6 H5 C4.4 15.6 4 15.2 4 14.6Z"/><path d="M4 6.2 C4.2 3.6 6.2 2 9 2 C11.8 2 13.8 3.6 14 6.2Z"/><rect x="1" y="7" width="2.2" height="6.4" rx="1.1"/><rect x="14.8" y="7" width="2.2" height="6.4" rx="1.1"/><rect x="5.8" y="14" width="2.2" height="5" rx="1.1"/><rect x="10" y="14" width="2.2" height="5" rx="1.1"/></svg></div></div><div class="abs t" style="left:78.9px;top:367.5px;font-size:15.8px;line-height:20px;color:#1a1630">Android</div><div class="abs t" style="left:175.5px;top:367.5px;font-size:15.8px;line-height:20px;color:#1a1630;letter-spacing:-.05px">15,453</div><svg width="17" height="17" viewBox="0 0 24 24" fill="none" stroke="#f82649" stroke-width="1.7" stroke-linecap="round" stroke-linejoin="round" style="position:absolute;left:238.0px;top:369.6px"><line x1="12" y1="5" x2="12" y2="19"/><polyline points="19 12 12 19 5 12"/></svg><div class="abs t" style="left:269.4px;top:370.0px;font-size:14.6px;line-height:20px;color:#f82649;letter-spacing:-.1px">23.70%</div></div><div class="card" style="left:1038.9px;top:791px;width:344.3px;height:513.8px"><div class="ch" style="padding-left:25px">Daily Activity</div><div class="abs" style="left:41.1px;top:87.7px;width:1.2px;height:361.8px;background:#e4e6f0"></div><div class="abs" style="left:35.6px;top:81.6px;width:12.2px;height:12.2px;border-radius:50%;background:#6259ca"></div><div class="abs t" style="left:81.4px;top:75.1px;font-size:14.3px;line-height:18px;color:#1a1630;-webkit-text-stroke:.3px #1a1630">Task Finished<span class="muted" style="font-size:11px;margin-left:8px;-webkit-text-stroke:0">29 Oct 2020</span></div><div class="abs t muted" style="left:81.4px;top:102.0px;font-size:12.1px;line-height:17.8px">Adam Berry finished task on <b style="color:#6259ca;letter-spacing:-.3px">Project</b><br><b style="color:#6259ca;letter-spacing:-.3px">Management</b></div><div class="abs" style="left:35.6px;top:168.4px;width:12.2px;height:12.2px;border-radius:50%;background:#fb6b25"></div><div class="abs t" style="left:81.4px;top:161.9px;font-size:14.3px;line-height:18px;color:#1a1630;-webkit-text-stroke:.3px #1a1630">New Comment<span class="muted" style="font-size:11px;margin-left:8px;-webkit-text-stroke:0">25 Oct 2020</span></div><div class="abs t muted" style="left:81.4px;top:188.8px;font-size:12.1px;line-height:17.8px">Victoria commented on Project <b style="color:#6259ca;letter-spacing:-.3px">AngularJS</b><br><b style="color:#6259ca;letter-spacing:-.3px">Template</b></div><div class="abs" style="left:35.6px;top:256.1px;width:12.2px;height:12.2px;border-radius:50%;background:#6259ca"></div><div class="abs t" style="left:81.4px;top:249.6px;font-size:14.3px;line-height:18px;color:#1a1630;-webkit-text-stroke:.3px #1a1630">New Comment<span class="muted" style="font-size:11px;margin-left:8px;-webkit-text-stroke:0">25 Oct 2020</span></div><div class="abs t muted" style="left:81.4px;top:276.5px;font-size:12.1px;line-height:17.8px">Victoria commented on Project <b style="color:#6259ca;letter-spacing:-.3px">AngularJS</b><br><b style="color:#6259ca;letter-spacing:-.3px">Template</b></div><div class="abs" style="left:35.6px;top:343.9px;width:12.2px;height:12.2px;border-radius:50%;background:#fb6b25"></div><div class="abs t" style="left:81.4px;top:337.4px;font-size:14.3px;line-height:18px;color:#1a1630;-webkit-text-stroke:.3px #1a1630">Task Overdue<span class="muted" style="font-size:11px;margin-left:8px;-webkit-text-stroke:0">14 Oct 2020</span></div><div class="abs t muted" style="left:81.4px;top:364.3px;font-size:12.1px;line-height:17.8px">Petey Cruiser finished task <b style="color:#6259ca;letter-spacing:-.3px">Integrated</b><br><b style="color:#6259ca;letter-spacing:-.3px">management</b></div><div class="abs" style="left:35.6px;top:431.0px;width:12.2px;height:12.2px;border-radius:50%;background:#6259ca"></div><div class="abs t" style="left:81.4px;top:424.5px;font-size:14.3px;line-height:18px;color:#1a1630;-webkit-text-stroke:.3px #1a1630">Task Overdue<span class="muted" style="font-size:11px;margin-left:8px;-webkit-text-stroke:0">29 Oct 2020</span></div><div class="abs t muted" style="left:81.4px;top:451.4px;font-size:12.1px;line-height:17.8px">Petey Cruiser finished task <b style="color:#6259ca;letter-spacing:-.3px">Integrated</b><br><b style="color:#6259ca;letter-spacing:-.3px">management</b></div></div><div class="card" style="left:303.2px;top:1329px;width:1080px;height:800px"><div class="ch">Product Sales</div><div class="abs t" style="left:25.0px;top:84.0px;font-size:14.3px;line-height:20px;color:#1a1630">Show</div><div class="abs t" style="left:64.1px;top:76.3px;width:59.4px;height:36.8px;border:1px solid #eceef6;border-radius:5px;font-size:14.3px;line-height:34px;padding-left:10.4px;color:#1a1630">10<svg class="abs" style="left:37px;top:15.5px" width="8" height="5" viewBox="0 0 8 5"><path d="M0 0h8l-4 5z" fill="#e3e5ee"/></svg></div><div class="abs t" style="left:128.0px;top:83.5px;font-size:14.3px;line-height:20px;color:#1a1630">entries</div><div class="abs t" style="left:876.6px;top:76.4px;width:178.2px;height:30.8px;border:1px solid #eceef6;border-radius:6px;font-size:13.8px;line-height:28px;padding-left:8.2px;color:#737a90">Search...</div><div class="abs" style="left:25.6px;top:128.1px;width:1028.6px;height:1px;background:#e9ebf1"></div><div class="abs" style="left:25.6px;top:174.7px;width:1028.6px;height:1px;background:#e9ebf1"></div><div class="abs" style="left:25.6px;top:245.1px;width:1028.6px;height:1px;background:#e9ebf1"></div><div class="abs" style="left:25.6px;top:314.7px;width:1028.6px;height:1px;background:#e9ebf1"></div><div class="abs" style="left:25.6px;top:385.4px;width:1028.6px;height:1px;background:#e9ebf1"></div><div class="abs" style="left:25.6px;top:455.0px;width:1028.6px;height:1px;background:#e9ebf1"></div><div class="abs" style="left:25.6px;top:524.8px;width:1028.6px;height:1px;background:#e9ebf1"></div><div class="abs" style="left:25.6px;top:595.3px;width:1028.6px;height:1px;background:#e9ebf1"></div><div class="abs" style="left:25.6px;top:664.8px;width:1028.6px;height:1px;background:#e9ebf1"></div><div class="abs" style="left:25.1px;top:128.6px;width:1px;height:562.4px;background:#e9ebf1"></div><div class="abs" style="left:100.9px;top:128.6px;width:1px;height:562.4px;background:#e9ebf1"></div><div class="abs" style="left:427.5px;top:128.6px;width:1px;height:562.4px;background:#e9ebf1"></div><div class="abs" style="left:583.6px;top:128.6px;width:1px;height:562.4px;background:#e9ebf1"></div><div class="abs" style="left:736.7px;top:128.6px;width:1px;height:562.4px;background:#e9ebf1"></div><div class="abs" style="left:877.9px;top:128.6px;width:1px;height:562.4px;background:#e9ebf1"></div><div class="abs" style="left:1053.7px;top:128.6px;width:1px;height:562.4px;background:#e9ebf1"></div><div class="abs t" style="left:38.7px;top:142.8px;font-size:13.5px;line-height:18px;-webkit-text-stroke:.45px #1a1630;color:#1a1630;letter-spacing:-0.35px">S.NO</div><svg class="abs" style="left:80.9px;top:145.1px" width="14" height="13" viewBox="0 0 14 13" fill="none" stroke-width="1" stroke-linecap="round" stroke-linejoin="round"><path d="M3.5 12V1M1.2 3.4L3.5 1L5.8 3.4" stroke="#3c3550"/><path d="M10 1V12M7.7 9.6L10 12L12.3 9.6" stroke="#d3d6e1"/></svg><div class="abs t" style="left:114.2px;top:142.8px;font-size:13.5px;line-height:18px;-webkit-text-stroke:.45px #1a1630;color:#1a1630;letter-spacing:0.17px">NAME</div><svg class="abs" style="left:407.5px;top:145.1px" width="14" height="13" viewBox="0 0 14 13" fill="none" stroke-width="1" stroke-linecap="round" stroke-linejoin="round"><path d="M3.5 12V1M1.2 3.4L3.5 1L5.8 3.4" stroke="#d3d6e1"/><path d="M10 1V12M7.7 9.6L10 12L12.3 9.6" stroke="#d3d6e1"/></svg><div class="abs t" style="left:441.7px;top:142.8px;font-size:13.5px;line-height:18px;-webkit-text-stroke:.45px #1a1630;color:#1a1630;letter-spacing:-0.25px">DATE</div><svg class="abs" style="left:563.6px;top:145.1px" width="14" height="13" viewBox="0 0 14 13" fill="none" stroke-width="1" stroke-linecap="round" stroke-linejoin="round"><path d="M3.5 12V1M1.2 3.4L3.5 1L5.8 3.4" stroke="#d3d6e1"/><path d="M10 1V12M7.7 9.6L10 12L12.3 9.6" stroke="#d3d6e1"/></svg><div class="abs t" style="left:597.2px;top:142.8px;font-size:13.5px;line-height:18px;-webkit-text-stroke:.45px #1a1630;color:#1a1630;letter-spacing:-0.05px">AMOUNT</div><svg class="abs" style="left:716.7px;top:145.1px" width="14" height="13" viewBox="0 0 14 13" fill="none" stroke-width="1" stroke-linecap="round" stroke-linejoin="round"><path d="M3.5 12V1M1.2 3.4L3.5 1L5.8 3.4" stroke="#d3d6e1"/><path d="M10 1V12M7.7 9.6L10 12L12.3 9.6" stroke="#d3d6e1"/></svg><div class="abs t" style="left:750.1px;top:142.8px;font-size:13.5px;line-height:18px;-webkit-text-stroke:.45px #1a1630;color:#1a1630;letter-spacing:-0.1px">STATUS</div><svg class="abs" style="left:857.9px;top:145.1px" width="14" height="13" viewBox="0 0 14 13" fill="none" stroke-width="1" stroke-linecap="round" stroke-linejoin="round"><path d="M3.5 12V1M1.2 3.4L3.5 1L5.8 3.4" stroke="#d3d6e1"/><path d="M10 1V12M7.7 9.6L10 12L12.3 9.6" stroke="#d3d6e1"/></svg><div class="abs t" style="left:891.6px;top:142.8px;font-size:13.5px;line-height:18px;-webkit-text-stroke:.45px #1a1630;color:#1a1630;letter-spacing:-0.18px">ACTION</div><svg class="abs" style="left:1033.7px;top:145.1px" width="14" height="13" viewBox="0 0 14 13" fill="none" stroke-width="1" stroke-linecap="round" stroke-linejoin="round"><path d="M3.5 12V1M1.2 3.4L3.5 1L5.8 3.4" stroke="#d3d6e1"/><path d="M10 1V12M7.7 9.6L10 12L12.3 9.6" stroke="#d3d6e1"/></svg><div class="abs t" style="left:53.1px;top:188.5px;font-size:15.2px;line-height:20px;color:#767d97;-webkit-text-stroke:.3px #767d97">01.</div><div class="abs" style="left:114.4px;top:191.9px;width:40.6px;height:40.6px"><svg width="40.6" height="40.6" viewBox="0 0 40 40"><defs><clipPath id="fc0"><circle cx="20" cy="20" r="20"/></clipPath><filter id="fb0" x="-5%" y="-5%" width="110%" height="110%"><feGaussianBlur stdDeviation=".35"/></filter></defs><g clip-path="url(#fc0)"><g filter="url(#fb0)"><rect width="40" height="40" fill="#9b9aa3"/><path d="M3 41 C5 33 11 31 16 29.6 L24 29.6 C29 31 35 33 37 41Z" fill="#17171b"/><path d="M16 29.6 L20 37.5 L24 29.6Z" fill="#f3f3f3"/><path d="M19 32.4 L21 32.4 L21.8 36.5 L20 39 L18.2 36.5Z" fill="#1a1a1f"/><rect x="16.8" y="24" width="6.4" height="7" fill="#c99a82"/><ellipse cx="20" cy="17.8" rx="7.1" ry="9.3" fill="#dbb097"/><path d="M12.9 17.5 C13 26.5 16.4 29.2 20 29.2 C23.6 29.2 27 26.5 27.1 17.5 C26 21.5 24.6 22.4 22.6 22.2 C21 21.4 19 21.4 17.4 22.2 C15.4 22.4 14 21.5 12.9 17.5Z" fill="#2a1f1b"/><path d="M12.5 15.5 C10.8 6.5 15 2 20 2 C25.6 2 29.2 6.5 27.5 15.5 C27 11.2 25 9 20 9 C15 9 13 11.2 12.5 15.5Z" fill="#1b1512"/><path d="M14.6 14.6h3.6M21.8 14.6h3.6" stroke="#2a1f1b" stroke-width="1"/><path d="M18.2 24.2h3.6" stroke="#b98473" stroke-width=".9"/></g></g></svg></div><div class="abs t" style="left:162.9px;top:194.2px;font-size:14.3px;line-height:18px;color:#1a1630;-webkit-text-stroke:.3px #1a1630">Jake poole</div><div class="abs t muted" style="left:162.9px;top:214.6px;font-size:12.15px;line-height:16px">jacke123@gmail.com</div><div class="abs t" style="left:441.7px;top:188.5px;font-size:15.2px;line-height:20px;color:#767d97;letter-spacing:.2px;-webkit-text-stroke:.3px #767d97">20-11-2020</div><div class="abs t" style="left:597.2px;top:188.5px;font-size:15.2px;line-height:20px;color:#767d97;-webkit-text-stroke:.3px #767d97">$5.321.2</div><div class="abs t" style="left:750.1px;top:188.5px;font-size:15.2px;line-height:20px;color:#1bb295;-webkit-text-stroke:.3px #1bb295">Success</div><div class="abs" style="left:891.8px;top:187.7px;width:39.8px;height:34px;border-radius:3.5px;background:#6259ca"><svg width="14.5" height="14.5" viewBox="0 0 24 24" fill="none" stroke="#fff" stroke-width="2.2" stroke-linejoin="round" stroke-linecap="round" style="position:absolute;left:12.4px;top:10.2px"><path d="M16.5 3.8a2.5 2.5 0 0 1 3.6 3.6L7.6 19.9 3 21l1.1-4.6z"/><path d="M14.4 6.2l3.4 3.4"/></svg></div><div class="abs" style="left:943.0px;top:187.7px;width:40px;height:34px;border-radius:3.5px;background:#f82649"><svg width="11" height="13" viewBox="0 0 11 13" fill="none" stroke="#fff" style="position:absolute;left:14.6px;top:10.8px"><path d="M0.3 2.4H10.7" stroke-width="1.7"/><path d="M3 1.1H8" stroke-width="1.4"/><path d="M1.9 4.6H9.1V12.1H1.9Z" stroke-width="1.7" stroke-linejoin="round"/></svg></div><div class="abs t" style="left:53.1px;top:258.9px;font-size:15.2px;line-height:20px;color:#767d97;-webkit-text-stroke:.3px #767d97">02.</div><div class="abs" style="left:114.4px;top:262.3px;width:40.6px;height:40.6px"><svg width="40.6" height="40.6" viewBox="0 0 40 40"><defs><clipPath id="fc1"><circle cx="20" cy="20" r="20"/></clipPath><filter id="fb1" x="-5%" y="-5%" width="110%" height="110%"><feGaussianBlur stdDeviation=".35"/></filter></defs><g clip-path="url(#fc1)"><g filter="url(#fb1)"><rect width="40" height="40" fill="#e4e3e2"/><path d="M30 10 L40 8 L40 22 L33 24Z" fill="#3a3a3c"/><rect x="30" y="24" width="10" height="16" fill="#f4f4f4"/><path d="M8 41 C5 30 8 17 16 12.5 L31 14 C34 22 33 34 31 41Z" fill="#e2b36b"/><ellipse cx="24.6" cy="20.8" rx="5.7" ry="7.6" fill="#edc7ab" transform="rotate(-8 24.6 20.8)"/><path d="M18.4 17 C17 24 16 32 18 40 L12 40 C10 30 12 20 18.4 17Z" fill="#edc486"/><path d="M6.5 13.5 C9 4.5 21 -0.5 30 2.5 C36.5 4.5 39.5 9 39.5 13 C34 15.6 28 13.6 22 13.8 C16 14 11 16.4 6.5 13.5Z" fill="#17171a"/><path d="M12 12.6 C17 10.4 26 10 33 11.4" stroke="#3a3a40" stroke-width="1.1" fill="none"/><circle cx="5" cy="19" r="3.6" fill="#cdbdb2"/><ellipse cx="26" cy="25.3" rx="1.7" ry=".8" fill="#e27a92"/></g></g></svg></div><div class="abs t" style="left:162.9px;top:264.6px;font-size:14.3px;line-height:18px;color:#1a1630;-webkit-text-stroke:.3px #1a1630">Virginia Gray</div><div class="abs t muted" style="left:162.9px;top:285.0px;font-size:12.15px;line-height:16px">virginia456@gmail.com</div><div class="abs t" style="left:441.7px;top:258.9px;font-size:15.2px;line-height:20px;color:#767d97;letter-spacing:.2px;-webkit-text-stroke:.3px #767d97">20-11-2020</div><div class="abs t" style="left:597.2px;top:258.9px;font-size:15.2px;line-height:20px;color:#767d97;-webkit-text-stroke:.3px #767d97">$53,3654</div><div class="abs t" style="left:750.1px;top:258.9px;font-size:15.2px;line-height:20px;color:#1bb295;-webkit-text-stroke:.3px #1bb295">Success</div><div class="abs" style="left:891.8px;top:258.1px;width:39.8px;height:34px;border-radius:3.5px;background:#6259ca"><svg width="14.5" height="14.5" viewBox="0 0 24 24" fill="none" stroke="#fff" stroke-width="2.2" stroke-linejoin="round" stroke-linecap="round" style="position:absolute;left:12.4px;top:10.2px"><path d="M16.5 3.8a2.5 2.5 0 0 1 3.6 3.6L7.6 19.9 3 21l1.1-4.6z"/><path d="M14.4 6.2l3.4 3.4"/></svg></div><div class="abs" style="left:943.0px;top:258.1px;width:40px;height:34px;border-radius:3.5px;background:#f82649"><svg width="11" height="13" viewBox="0 0 11 13" fill="none" stroke="#fff" style="position:absolute;left:14.6px;top:10.8px"><path d="M0.3 2.4H10.7" stroke-width="1.7"/><path d="M3 1.1H8" stroke-width="1.4"/><path d="M1.9 4.6H9.1V12.1H1.9Z" stroke-width="1.7" stroke-linejoin="round"/></svg></div><div class="abs t" style="left:53.1px;top:328.5px;font-size:15.2px;line-height:20px;color:#767d97;-webkit-text-stroke:.3px #767d97">03.</div><div class="abs" style="left:114.4px;top:331.9px;width:40.6px;height:40.6px"><svg width="40.6" height="40.6" viewBox="0 0 40 40"><defs><clipPath id="fc2"><circle cx="20" cy="20" r="20"/></clipPath><filter id="fb2" x="-5%" y="-5%" width="110%" height="110%"><feGaussianBlur stdDeviation=".35"/></filter></defs><g clip-path="url(#fc2)"><g filter="url(#fb2)"><rect width="40" height="40" fill="#22262c"/><path d="M2 41 C4 32 10 29 15 28 L26 28 C31 29 37 32 39 41Z" fill="#55657c"/><path d="M14.4 28 L26 28 L27.4 41 L13 41Z" fill="#8fabd8"/><path d="M16.5 28v13M20 28v13M23.6 28v13M13.5 31.5h13.5M13.3 35h14M13 38.5h14.4" stroke="#e8eef8" stroke-width="1"/><rect x="17.4" y="22" width="6.2" height="7.4" fill="#c4947c"/><ellipse cx="20.5" cy="14.8" rx="6.5" ry="8.6" fill="#d8ab92"/><path d="M14.1 15.5 C14.4 22.5 17.4 25 20.5 25 C23.6 25 26.6 22.5 26.9 15.5 C26 19 24.6 19.6 22.8 19.4 C21.4 18.8 19.6 18.8 18.2 19.4 C16.4 19.6 15 19 14.1 15.5Z" fill="#a2704f"/><path d="M14 12.4 C13.2 6 17 3.6 20.5 3.6 C24.6 3.6 27.8 6 27 12.4 C26.2 8.6 24 7.4 20.5 7.4 C17 7.4 14.8 8.6 14 12.4Z" fill="#3a2a22"/></g></g></svg></div><div class="abs t" style="left:162.9px;top:334.2px;font-size:14.3px;line-height:18px;color:#1a1630;-webkit-text-stroke:.3px #1a1630">Jacob Thomson</div><div class="abs t muted" style="left:162.9px;top:354.6px;font-size:12.15px;line-height:16px">jacobthomson@gmail.com</div><div class="abs t" style="left:441.7px;top:328.5px;font-size:15.2px;line-height:20px;color:#767d97;letter-spacing:.2px;-webkit-text-stroke:.3px #767d97">20-11-2020</div><div class="abs t" style="left:597.2px;top:328.5px;font-size:15.2px;line-height:20px;color:#767d97;-webkit-text-stroke:.3px #767d97">$1,56,3654</div><div class="abs t" style="left:750.1px;top:328.5px;font-size:15.2px;line-height:20px;color:#6259ca;-webkit-text-stroke:.3px #6259ca">Pending</div><div class="abs" style="left:891.8px;top:327.7px;width:39.8px;height:34px;border-radius:3.5px;background:#6259ca"><svg width="14.5" height="14.5" viewBox="0 0 24 24" fill="none" stroke="#fff" stroke-width="2.2" stroke-linejoin="round" stroke-linecap="round" style="position:absolute;left:12.4px;top:10.2px"><path d="M16.5 3.8a2.5 2.5 0 0 1 3.6 3.6L7.6 19.9 3 21l1.1-4.6z"/><path d="M14.4 6.2l3.4 3.4"/></svg></div><div class="abs" style="left:943.0px;top:327.7px;width:40px;height:34px;border-radius:3.5px;background:#f82649"><svg width="11" height="13" viewBox="0 0 11 13" fill="none" stroke="#fff" style="position:absolute;left:14.6px;top:10.8px"><path d="M0.3 2.4H10.7" stroke-width="1.7"/><path d="M3 1.1H8" stroke-width="1.4"/><path d="M1.9 4.6H9.1V12.1H1.9Z" stroke-width="1.7" stroke-linejoin="round"/></svg></div><div class="abs t" style="left:53.1px;top:399.2px;font-size:15.2px;line-height:20px;color:#767d97;-webkit-text-stroke:.3px #767d97">04.</div><div class="abs" style="left:114.4px;top:402.6px;width:40.6px;height:40.6px"><svg width="40.6" height="40.6" viewBox="0 0 40 40"><defs><clipPath id="fc3"><circle cx="20" cy="20" r="20"/></clipPath><filter id="fb3" x="-5%" y="-5%" width="110%" height="110%"><feGaussianBlur stdDeviation=".35"/></filter></defs><g clip-path="url(#fc3)"><g filter="url(#fb3)"><defs><linearGradient id="a4" x1="0" x2="1" y1="0" y2="0"><stop offset="0" stop-color="#a3b0a4"/><stop offset=".45" stop-color="#7f9c7a"/><stop offset="1" stop-color="#4c7a43"/></linearGradient></defs><rect width="40" height="40" fill="url(#a4)"/><path d="M2 41 C4 32.5 10 30 15 28.6 L24.5 28.6 C29.5 30 35.5 32.5 38 41Z" fill="#c74659"/><path d="M6 33l8 8M12 30l10 11M20 29l10 12M27 30.5l9 9M34 33l-9 9M28 30l-11 11M21 29l-11 12M14 30l-9 9" stroke="#f1e6e6" stroke-width="1.1"/><path d="M16.4 28.6 L23 28.6 L19.8 34Z" fill="#eeeeee"/><rect x="16.6" y="23" width="6" height="6.6" fill="#cf9f86"/><ellipse cx="19.2" cy="18.6" rx="6.3" ry="8" fill="#e3b79c"/><path d="M11.6 17.5 C9 8.5 13.6 2.2 21 2.8 C27.6 3.4 30 9.4 27 17.4 C26.4 13.4 24.4 11.2 20 11.8 C16 11.2 13 13.4 11.6 17.5Z" fill="#4a2d25"/></g></g></svg></div><div class="abs t" style="left:162.9px;top:404.9px;font-size:14.3px;line-height:18px;color:#1a1630;-webkit-text-stroke:.3px #1a1630">Trevor Thomson</div><div class="abs t muted" style="left:162.9px;top:425.3px;font-size:12.15px;line-height:16px">trevor@gmail.com</div><div class="abs t" style="left:441.7px;top:399.2px;font-size:15.2px;line-height:20px;color:#767d97;letter-spacing:.2px;-webkit-text-stroke:.3px #767d97">19-11-2020</div><div class="abs t" style="left:597.2px;top:399.2px;font-size:15.2px;line-height:20px;color:#767d97;-webkit-text-stroke:.3px #767d97">$12.3</div><div class="abs t" style="left:750.1px;top:399.2px;font-size:15.2px;line-height:20px;color:#1bb295;-webkit-text-stroke:.3px #1bb295">Success</div><div class="abs" style="left:891.8px;top:398.4px;width:39.8px;height:34px;border-radius:3.5px;background:#6259ca"><svg width="14.5" height="14.5" viewBox="0 0 24 24" fill="none" stroke="#fff" stroke-width="2.2" stroke-linejoin="round" stroke-linecap="round" style="position:absolute;left:12.4px;top:10.2px"><path d="M16.5 3.8a2.5 2.5 0 0 1 3.6 3.6L7.6 19.9 3 21l1.1-4.6z"/><path d="M14.4 6.2l3.4 3.4"/></svg></div><div class="abs" style="left:943.0px;top:398.4px;width:40px;height:34px;border-radius:3.5px;background:#f82649"><svg width="11" height="13" viewBox="0 0 11 13" fill="none" stroke="#fff" style="position:absolute;left:14.6px;top:10.8px"><path d="M0.3 2.4H10.7" stroke-width="1.7"/><path d="M3 1.1H8" stroke-width="1.4"/><path d="M1.9 4.6H9.1V12.1H1.9Z" stroke-width="1.7" stroke-linejoin="round"/></svg></div><div class="abs t" style="left:53.1px;top:468.8px;font-size:15.2px;line-height:20px;color:#767d97;-webkit-text-stroke:.3px #767d97">05.</div><div class="abs" style="left:114.4px;top:472.2px;width:40.6px;height:40.6px"><svg width="40.6" height="40.6" viewBox="0 0 40 40"><defs><clipPath id="fc4"><circle cx="20" cy="20" r="20"/></clipPath><filter id="fb4" x="-5%" y="-5%" width="110%" height="110%"><feGaussianBlur stdDeviation=".35"/></filter></defs><g clip-path="url(#fc4)"><g filter="url(#fb4)"><rect width="40" height="40" fill="#dfe8d6"/><path d="M0 0h16v12C10 14 4 12 0 16Z" fill="#8db45c"/><path d="M0 16 C4 22 6 32 6 40H0Z" fill="#c9cbd6"/><path d="M12 41 C8 30 9.6 16 18 10 L33 12 C38 20 37 32 34 41Z" fill="#e0ad60"/><ellipse cx="19.6" cy="21.6" rx="6" ry="8.2" fill="#efc8aa" transform="rotate(6 19.6 21.6)"/><path d="M24.5 16 C27 22 27 30 24 38 L31 40 C35 30 34 20 30 14Z" fill="#ecc07a"/><path d="M12.6 14.6 C13 5 21 1 28.4 3.2 C35.6 5.4 38.6 13 36.4 21.6 C33.4 15.2 27.4 11.2 20.4 11.8 C17.4 12 14.6 13 12.6 14.6Z" fill="#e6dfcf"/><path d="M14 13.6 C18 10 27 9.6 33 15" stroke="#d2c9b4" stroke-width="1" fill="none"/><ellipse cx="16.4" cy="28" rx="1.8" ry=".9" fill="#e0607e"/></g></g></svg></div><div class="abs t" style="left:162.9px;top:474.5px;font-size:14.3px;line-height:18px;color:#1a1630;-webkit-text-stroke:.3px #1a1630">Kylie north</div><div class="abs t muted" style="left:162.9px;top:494.9px;font-size:12.15px;line-height:16px">kylie@gmail.com</div><div class="abs t" style="left:441.7px;top:468.8px;font-size:15.2px;line-height:20px;color:#767d97;letter-spacing:.2px;-webkit-text-stroke:.3px #767d97">19-11-2020</div><div class="abs t" style="left:597.2px;top:468.8px;font-size:15.2px;line-height:20px;color:#767d97;-webkit-text-stroke:.3px #767d97">$5.312.2</div><div class="abs t" style="left:750.1px;top:468.8px;font-size:15.2px;line-height:20px;color:#6259ca;-webkit-text-stroke:.3px #6259ca">Pending</div><div class="abs" style="left:891.8px;top:468.0px;width:39.8px;height:34px;border-radius:3.5px;background:#6259ca"><svg width="14.5" height="14.5" viewBox="0 0 24 24" fill="none" stroke="#fff" stroke-width="2.2" stroke-linejoin="round" stroke-linecap="round" style="position:absolute;left:12.4px;top:10.2px"><path d="M16.5 3.8a2.5 2.5 0 0 1 3.6 3.6L7.6 19.9 3 21l1.1-4.6z"/><path d="M14.4 6.2l3.4 3.4"/></svg></div><div class="abs" style="left:943.0px;top:468.0px;width:40px;height:34px;border-radius:3.5px;background:#f82649"><svg width="11" height="13" viewBox="0 0 11 13" fill="none" stroke="#fff" style="position:absolute;left:14.6px;top:10.8px"><path d="M0.3 2.4H10.7" stroke-width="1.7"/><path d="M3 1.1H8" stroke-width="1.4"/><path d="M1.9 4.6H9.1V12.1H1.9Z" stroke-width="1.7" stroke-linejoin="round"/></svg></div><div class="abs t" style="left:53.1px;top:538.6px;font-size:15.2px;line-height:20px;color:#767d97;-webkit-text-stroke:.3px #767d97">06.</div><div class="abs" style="left:114.4px;top:542.0px;width:40.6px;height:40.6px"><svg width="40.6" height="40.6" viewBox="0 0 40 40"><defs><clipPath id="fc5"><circle cx="20" cy="20" r="20"/></clipPath><filter id="fb5" x="-5%" y="-5%" width="110%" height="110%"><feGaussianBlur stdDeviation=".35"/></filter></defs><g clip-path="url(#fc5)"><g filter="url(#fb5)"><rect width="40" height="40" fill="#e6e9ea"/><path d="M0 14 C5 18 8 28 7 40H0Z" fill="#f6f7f7"/><path d="M13 41 L16.4 33 L28.4 30.6 L34 41Z" fill="#b7aba0"/><path d="M18.4 24 L27.4 22 L28.6 31.4 L20 35.4Z" fill="#cfa088"/><ellipse cx="19.4" cy="18.8" rx="6.9" ry="9" fill="#dfb59c"/><path d="M12.6 13.6 C13.4 5.6 18.6 2.6 23.6 3.2 C29.6 4 32 9.4 30.2 17 C29.4 20.6 27.8 22.4 26.6 24 C27 19 26.2 14.4 24 11.6 C20 10 15.6 10.8 12.6 13.6Z" fill="#4b403d"/><path d="M13.6 24.6 C15 28 18 29.4 21.6 28.2 C23.4 27.4 24.8 25.8 25.6 24 C23 26 20 26.6 17.4 25.6 C16 25 14.6 24.6 13.6 24.6Z" fill="#7a5e52"/><path d="M13.8 15.6h3.4" stroke="#4b403d" stroke-width="1"/></g></g></svg></div><div class="abs t" style="left:162.9px;top:544.3px;font-size:14.3px;line-height:18px;color:#1a1630;-webkit-text-stroke:.3px #1a1630">Jan Hodges</div><div class="abs t muted" style="left:162.9px;top:564.7px;font-size:12.15px;line-height:16px">jan@gmail.com</div><div class="abs t" style="left:441.7px;top:538.6px;font-size:15.2px;line-height:20px;color:#767d97;letter-spacing:.2px;-webkit-text-stroke:.3px #767d97">19-11-2020</div><div class="abs t" style="left:597.2px;top:538.6px;font-size:15.2px;line-height:20px;color:#767d97;-webkit-text-stroke:.3px #767d97">$5.312.2</div><div class="abs t" style="left:750.1px;top:538.6px;font-size:15.2px;line-height:20px;color:#f82649;-webkit-text-stroke:.3px #f82649">Cancel</div><div class="abs" style="left:891.8px;top:537.8px;width:39.8px;height:34px;border-radius:3.5px;background:#6259ca"><svg width="14.5" height="14.5" viewBox="0 0 24 24" fill="none" stroke="#fff" stroke-width="2.2" stroke-linejoin="round" stroke-linecap="round" style="position:absolute;left:12.4px;top:10.2px"><path d="M16.5 3.8a2.5 2.5 0 0 1 3.6 3.6L7.6 19.9 3 21l1.1-4.6z"/><path d="M14.4 6.2l3.4 3.4"/></svg></div><div class="abs" style="left:943.0px;top:537.8px;width:40px;height:34px;border-radius:3.5px;background:#f82649"><svg width="11" height="13" viewBox="0 0 11 13" fill="none" stroke="#fff" style="position:absolute;left:14.6px;top:10.8px"><path d="M0.3 2.4H10.7" stroke-width="1.7"/><path d="M3 1.1H8" stroke-width="1.4"/><path d="M1.9 4.6H9.1V12.1H1.9Z" stroke-width="1.7" stroke-linejoin="round"/></svg></div><div class="abs t" style="left:53.1px;top:609.1px;font-size:15.2px;line-height:20px;color:#767d97;-webkit-text-stroke:.3px #767d97">07.</div><div class="abs" style="left:114.4px;top:612.5px;width:40.6px;height:40.6px"><svg width="40.6" height="40.6" viewBox="0 0 40 40"><defs><clipPath id="fc6"><circle cx="20" cy="20" r="20"/></clipPath><filter id="fb6" x="-5%" y="-5%" width="110%" height="110%"><feGaussianBlur stdDeviation=".35"/></filter></defs><g clip-path="url(#fc6)"><g filter="url(#fb6)"><rect width="40" height="40" fill="#4b5a2b"/><path d="M0 0h12v40H0Z" fill="#3a4722"/><path d="M30 0h10v22Z" fill="#2c3619"/><path d="M5 41 C2.6 26 7 5.4 20.4 4.6 C33.6 5.4 37.6 26 35.4 41Z" fill="#b88d59"/><path d="M6 41 C8 33.4 13 31.4 17 30.6 L20.5 36.4 L24 30.6 C28 31.4 33 33.4 35 41Z" fill="#17203a"/><path d="M17 30.6 L20.5 36.4 L24 30.6 L23 27 H18Z" fill="#dcae90"/><ellipse cx="20.5" cy="19" rx="6.4" ry="8.3" fill="#eac0a1"/><path d="M13.4 18 C12.6 9.4 17 5.6 20.8 5.6 C25 5.6 28.6 9.4 27.6 18 C26.4 12.6 24.4 10.2 21.6 9.6 C17.8 10.8 15 13.6 13.4 18Z" fill="#a57a49"/><ellipse cx="20.6" cy="24" rx="2.9" ry="1.3" fill="#cf5d68"/><ellipse cx="20.6" cy="23.9" rx="2.1" ry=".6" fill="#fff"/></g></g></svg></div><div class="abs t" style="left:162.9px;top:614.8px;font-size:14.3px;line-height:18px;color:#1a1630;-webkit-text-stroke:.3px #1a1630">Trevor Thomson</div><div class="abs t muted" style="left:162.9px;top:635.2px;font-size:12.15px;line-height:16px">trevor@gmail.com</div><div class="abs t" style="left:441.7px;top:609.1px;font-size:15.2px;line-height:20px;color:#767d97;letter-spacing:.2px;-webkit-text-stroke:.3px #767d97">19-11-2020</div><div class="abs t" style="left:597.2px;top:609.1px;font-size:15.2px;line-height:20px;color:#767d97;-webkit-text-stroke:.3px #767d97">$2,24,1421</div><div class="abs t" style="left:750.1px;top:609.1px;font-size:15.2px;line-height:20px;color:#1bb295;-webkit-text-stroke:.3px #1bb295">Success</div><div class="abs" style="left:891.8px;top:608.3px;width:39.8px;height:34px;border-radius:3.5px;background:#6259ca"><svg width="14.5" height="14.5" viewBox="0 0 24 24" fill="none" stroke="#fff" stroke-width="2.2" stroke-linejoin="round" stroke-linecap="round" style="position:absolute;left:12.4px;top:10.2px"><path d="M16.5 3.8a2.5 2.5 0 0 1 3.6 3.6L7.6 19.9 3 21l1.1-4.6z"/><path d="M14.4 6.2l3.4 3.4"/></svg></div><div class="abs" style="left:943.0px;top:608.3px;width:40px;height:34px;border-radius:3.5px;background:#f82649"><svg width="11" height="13" viewBox="0 0 11 13" fill="none" stroke="#fff" style="position:absolute;left:14.6px;top:10.8px"><path d="M0.3 2.4H10.7" stroke-width="1.7"/><path d="M3 1.1H8" stroke-width="1.4"/><path d="M1.9 4.6H9.1V12.1H1.9Z" stroke-width="1.7" stroke-linejoin="round"/></svg></div><div class="abs t" style="left:53.1px;top:678.6px;font-size:15.2px;line-height:20px;color:#767d97;-webkit-text-stroke:.3px #767d97">08.</div><div class="abs" style="left:114.4px;top:682.0px;width:40.6px;height:40.6px"><svg width="40.6" height="40.6" viewBox="0 0 40 40"><defs><clipPath id="fc7"><circle cx="20" cy="20" r="20"/></clipPath><filter id="fb7" x="-5%" y="-5%" width="110%" height="110%"><feGaussianBlur stdDeviation=".35"/></filter></defs><g clip-path="url(#fc7)"><g filter="url(#fb7)"><rect width="40" height="40" fill="#f48fb1"/><path d="M10 14 C10 6 15 3 20 3 C25 3 30 6 30 14Z" fill="#2a1c1c"/><ellipse cx="20" cy="18" rx="6.6" ry="8.6" fill="#e0b096"/></g></g></svg></div><div class="abs t" style="left:162.9px;top:684.3px;font-size:14.3px;line-height:18px;color:#1a1630;-webkit-text-stroke:.3px #1a1630"></div><div class="abs t muted" style="left:162.9px;top:704.7px;font-size:12.15px;line-height:16px"></div><div class="abs t" style="left:441.7px;top:678.6px;font-size:15.2px;line-height:20px;color:#767d97;letter-spacing:.2px;-webkit-text-stroke:.3px #767d97">19-11-2020</div><div class="abs t" style="left:597.2px;top:678.6px;font-size:15.2px;line-height:20px;color:#767d97;-webkit-text-stroke:.3px #767d97">$9.321.2</div><div class="abs t" style="left:750.1px;top:678.6px;font-size:15.2px;line-height:20px;color:#f82649;-webkit-text-stroke:.3px #f82649">Cancel</div><div class="abs" style="left:891.8px;top:677.8px;width:39.8px;height:34px;border-radius:3.5px;background:#6259ca"><svg width="14.5" height="14.5" viewBox="0 0 24 24" fill="none" stroke="#fff" stroke-width="2.2" stroke-linejoin="round" stroke-linecap="round" style="position:absolute;left:12.4px;top:10.2px"><path d="M16.5 3.8a2.5 2.5 0 0 1 3.6 3.6L7.6 19.9 3 21l1.1-4.6z"/><path d="M14.4 6.2l3.4 3.4"/></svg></div><div class="abs" style="left:943.0px;top:677.8px;width:40px;height:34px;border-radius:3.5px;background:#f82649"><svg width="11" height="13" viewBox="0 0 11 13" fill="none" stroke="#fff" style="position:absolute;left:14.6px;top:10.8px"><path d="M0.3 2.4H10.7" stroke-width="1.7"/><path d="M3 1.1H8" stroke-width="1.4"/><path d="M1.9 4.6H9.1V12.1H1.9Z" stroke-width="1.7" stroke-linejoin="round"/></svg></div></div></div></body></html>
